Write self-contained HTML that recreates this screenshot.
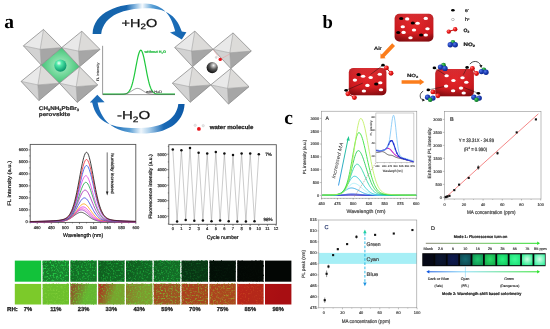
<!DOCTYPE html>
<html><head><meta charset="utf-8"><title>Perovskite humidity and gas sensing figure</title>
<style>
html,body{margin:0;padding:0;background:#fff;}
body{width:550px;height:329px;overflow:hidden;}
svg{display:block;} text{text-rendering:geometricPrecision;}
</style></head>
<body>
<svg width="550" height="329" viewBox="0 0 550 329">
<defs>
<linearGradient id="arcT" x1="0" y1="0" x2="1" y2="0">
 <stop offset="0" stop-color="#1262a8"/><stop offset="0.36" stop-color="#1766b0"/><stop offset="0.46" stop-color="#8fbde3"/><stop offset="0.53" stop-color="#f4f9fd"/><stop offset="0.64" stop-color="#5aa0d6"/><stop offset="0.8" stop-color="#1e70ba"/><stop offset="1" stop-color="#1565b0"/></linearGradient>
<linearGradient id="arcB" x1="1" y1="0" x2="0" y2="0">
 <stop offset="0" stop-color="#0c58a6"/><stop offset="0.22" stop-color="#1a6ab6"/><stop offset="0.37" stop-color="#a8cdea"/><stop offset="0.46" stop-color="#eef6fc"/><stop offset="0.58" stop-color="#5a9ed4"/><stop offset="0.75" stop-color="#1e6eb8"/><stop offset="1" stop-color="#1a6ab8"/></linearGradient>
<radialGradient id="gsq" cx="0.5" cy="0.5" r="0.62"><stop offset="0" stop-color="#b0eec8"/><stop offset="0.55" stop-color="#64d290"/><stop offset="1" stop-color="#34b468"/></radialGradient>
<radialGradient id="gsph" cx="0.38" cy="0.3" r="0.72"><stop offset="0" stop-color="#f4fff8"/><stop offset="0.3" stop-color="#50e8a8"/><stop offset="1" stop-color="#06946a"/></radialGradient>
<radialGradient id="bsph" cx="0.62" cy="0.3" r="0.78"><stop offset="0" stop-color="#f4f4f4"/><stop offset="0.45" stop-color="#5a5a5a"/><stop offset="1" stop-color="#000"/></radialGradient>
<radialGradient id="cubeg" cx="0.5" cy="0.4" r="0.72"><stop offset="0" stop-color="#e82428"/><stop offset="0.65" stop-color="#cf1a1f"/><stop offset="1" stop-color="#a01016"/></radialGradient>
<linearGradient id="cubev" x1="0" y1="0" x2="0" y2="1"><stop offset="0" stop-color="#fff" stop-opacity="0.08"/><stop offset="0.7" stop-color="#000" stop-opacity="0"/><stop offset="1" stop-color="#400" stop-opacity="0.35"/></linearGradient>
<radialGradient id="redb" cx="0.35" cy="0.35" r="0.7"><stop offset="0" stop-color="#ff8080"/><stop offset="0.45" stop-color="#ec1a1a"/><stop offset="1" stop-color="#b00808"/></radialGradient>
<radialGradient id="blub" cx="0.35" cy="0.35" r="0.7"><stop offset="0" stop-color="#5a7ae8"/><stop offset="0.5" stop-color="#1e40b8"/><stop offset="1" stop-color="#0c2488"/></radialGradient>
<radialGradient id="grnb" cx="0.35" cy="0.35" r="0.7"><stop offset="0" stop-color="#60d070"/><stop offset="0.5" stop-color="#1a9a38"/><stop offset="1" stop-color="#0a6a20"/></radialGradient>
<linearGradient id="ar1" x1="0" y1="0" x2="1" y2="0"><stop offset="0" stop-color="#8a8a78"/><stop offset="0.5" stop-color="#70c060"/><stop offset="1" stop-color="#28e028"/></linearGradient>
<linearGradient id="ar2" x1="0" y1="0" x2="1" y2="0"><stop offset="0" stop-color="#1058e0"/><stop offset="0.33" stop-color="#88dcf8"/><stop offset="1" stop-color="#28e028"/></linearGradient>
<linearGradient id="rh0_0" x1="0" y1="0" x2="1" y2="0.3"><stop offset="0" stop-color="rgb(18,194,58)"/><stop offset="0.15" stop-color="rgb(18,194,58)"/><stop offset="0.7" stop-color="rgb(18,194,58)"/></linearGradient>
<linearGradient id="rh1_0" x1="0" y1="0" x2="1" y2="0.3"><stop offset="0" stop-color="rgb(124,202,42)"/><stop offset="0.15" stop-color="rgb(124,202,42)"/><stop offset="0.7" stop-color="rgb(124,202,42)"/></linearGradient>
<linearGradient id="rh0_1" x1="0" y1="0" x2="1" y2="0.3"><stop offset="0" stop-color="rgb(21,119,41)"/><stop offset="0.15" stop-color="rgb(21,119,41)"/><stop offset="0.7" stop-color="rgb(24,132,46)"/></linearGradient>
<filter id="sp0_1" x="0" y="0" width="1" height="1" color-interpolation-filters="sRGB"><feTurbulence type="fractalNoise" baseFrequency="0.6" numOctaves="2" seed="10"/><feColorMatrix type="matrix" values="0 0 0 0 0.153 0 0 0 0 0.843 0 0 0 0 0.294 3.2 0 0 0 -1.600"/></filter>
<linearGradient id="rh1_1" x1="0" y1="0" x2="1" y2="0.3"><stop offset="0" stop-color="rgb(108,192,44)"/><stop offset="0.15" stop-color="rgb(108,192,44)"/><stop offset="0.7" stop-color="rgb(108,192,44)"/></linearGradient>
<filter id="sp1_1" x="0" y="0" width="1" height="1" color-interpolation-filters="sRGB"><feTurbulence type="fractalNoise" baseFrequency="0.6" numOctaves="2" seed="11"/><feColorMatrix type="matrix" values="0 0 0 0 0.502 0 0 0 0 0.808 0 0 0 0 0.220 3.2 0 0 0 -1.673"/></filter>
<linearGradient id="rh0_2" x1="0" y1="0" x2="1" y2="0.3"><stop offset="0" stop-color="rgb(18,106,36)"/><stop offset="0.15" stop-color="rgb(18,106,36)"/><stop offset="0.7" stop-color="rgb(20,118,40)"/></linearGradient>
<filter id="sp0_2" x="0" y="0" width="1" height="1" color-interpolation-filters="sRGB"><feTurbulence type="fractalNoise" baseFrequency="0.6" numOctaves="2" seed="13"/><feColorMatrix type="matrix" values="0 0 0 0 0.129 0 0 0 0 0.753 0 0 0 0 0.255 3.2 0 0 0 -1.600"/></filter>
<linearGradient id="rh1_2" x1="0" y1="0" x2="1" y2="0.3"><stop offset="0" stop-color="rgb(140,88,40)"/><stop offset="0.15" stop-color="rgb(140,88,40)"/><stop offset="0.7" stop-color="rgb(100,182,50)"/></linearGradient>
<filter id="sp1_2" x="0" y="0" width="1" height="1" color-interpolation-filters="sRGB"><feTurbulence type="fractalNoise" baseFrequency="0.6" numOctaves="2" seed="14"/><feColorMatrix type="matrix" values="0 0 0 0 0.424 0 0 0 0 0.769 0 0 0 0 0.196 3.2 0 0 0 -1.600"/></filter>
<linearGradient id="rh0_3" x1="0" y1="0" x2="1" y2="0.3"><stop offset="0" stop-color="rgb(15,93,31)"/><stop offset="0.15" stop-color="rgb(15,93,31)"/><stop offset="0.7" stop-color="rgb(17,104,35)"/></linearGradient>
<filter id="sp0_3" x="0" y="0" width="1" height="1" color-interpolation-filters="sRGB"><feTurbulence type="fractalNoise" baseFrequency="0.6" numOctaves="2" seed="16"/><feColorMatrix type="matrix" values="0 0 0 0 0.110 0 0 0 0 0.663 0 0 0 0 0.224 3.2 0 0 0 -1.600"/></filter>
<linearGradient id="rh1_3" x1="0" y1="0" x2="1" y2="0.3"><stop offset="0" stop-color="rgb(168,58,32)"/><stop offset="0.15" stop-color="rgb(168,58,32)"/><stop offset="0.7" stop-color="rgb(120,165,46)"/></linearGradient>
<filter id="sp1_3" x="0" y="0" width="1" height="1" color-interpolation-filters="sRGB"><feTurbulence type="fractalNoise" baseFrequency="0.6" numOctaves="2" seed="17"/><feColorMatrix type="matrix" values="0 0 0 0 0.424 0 0 0 0 0.745 0 0 0 0 0.196 3.2 0 0 0 -1.658"/></filter>
<linearGradient id="rh0_4" x1="0" y1="0" x2="1" y2="0.3"><stop offset="0" stop-color="rgb(15,92,31)"/><stop offset="0.15" stop-color="rgb(15,92,31)"/><stop offset="0.7" stop-color="rgb(17,102,35)"/></linearGradient>
<filter id="sp0_4" x="0" y="0" width="1" height="1" color-interpolation-filters="sRGB"><feTurbulence type="fractalNoise" baseFrequency="0.6" numOctaves="2" seed="19"/><feColorMatrix type="matrix" values="0 0 0 0 0.110 0 0 0 0 0.651 0 0 0 0 0.224 3.2 0 0 0 -1.600"/></filter>
<linearGradient id="rh1_4" x1="0" y1="0" x2="1" y2="0.3"><stop offset="0" stop-color="rgb(140,125,42)"/><stop offset="0.15" stop-color="rgb(140,125,42)"/><stop offset="0.7" stop-color="rgb(125,155,46)"/></linearGradient>
<filter id="sp1_4" x="0" y="0" width="1" height="1" color-interpolation-filters="sRGB"><feTurbulence type="fractalNoise" baseFrequency="0.6" numOctaves="2" seed="20"/><feColorMatrix type="matrix" values="0 0 0 0 0.424 0 0 0 0 0.761 0 0 0 0 0.196 3.2 0 0 0 -1.564"/></filter>
<linearGradient id="rh0_5" x1="0" y1="0" x2="1" y2="0.3"><stop offset="0" stop-color="rgb(17,97,34)"/><stop offset="0.15" stop-color="rgb(17,97,34)"/><stop offset="0.7" stop-color="rgb(19,108,38)"/></linearGradient>
<filter id="sp0_5" x="0" y="0" width="1" height="1" color-interpolation-filters="sRGB"><feTurbulence type="fractalNoise" baseFrequency="0.6" numOctaves="2" seed="22"/><feColorMatrix type="matrix" values="0 0 0 0 0.122 0 0 0 0 0.690 0 0 0 0 0.243 3.2 0 0 0 -1.600"/></filter>
<linearGradient id="rh1_5" x1="0" y1="0" x2="1" y2="0.3"><stop offset="0" stop-color="rgb(165,72,32)"/><stop offset="0.15" stop-color="rgb(165,72,32)"/><stop offset="0.7" stop-color="rgb(158,84,34)"/></linearGradient>
<filter id="sp1_5" x="0" y="0" width="1" height="1" color-interpolation-filters="sRGB"><feTurbulence type="fractalNoise" baseFrequency="0.6" numOctaves="2" seed="23"/><feColorMatrix type="matrix" values="0 0 0 0 0.490 0 0 0 0 0.714 0 0 0 0 0.196 3.2 0 0 0 -1.600"/></filter>
<linearGradient id="rh0_6" x1="0" y1="0" x2="1" y2="0.3"><stop offset="0" stop-color="rgb(7,50,18)"/><stop offset="0.15" stop-color="rgb(7,50,18)"/><stop offset="0.7" stop-color="rgb(8,56,20)"/></linearGradient>
<filter id="sp0_6" x="0" y="0" width="1" height="1" color-interpolation-filters="sRGB"><feTurbulence type="fractalNoise" baseFrequency="0.6" numOctaves="2" seed="25"/><feColorMatrix type="matrix" values="0 0 0 0 0.055 0 0 0 0 0.357 0 0 0 0 0.125 3.2 0 0 0 -1.600"/></filter>
<linearGradient id="rh1_6" x1="0" y1="0" x2="1" y2="0.3"><stop offset="0" stop-color="rgb(172,62,30)"/><stop offset="0.15" stop-color="rgb(172,62,30)"/><stop offset="0.7" stop-color="rgb(168,70,30)"/></linearGradient>
<filter id="sp1_6" x="0" y="0" width="1" height="1" color-interpolation-filters="sRGB"><feTurbulence type="fractalNoise" baseFrequency="0.6" numOctaves="2" seed="26"/><feColorMatrix type="matrix" values="0 0 0 0 0.549 0 0 0 0 0.667 0 0 0 0 0.180 3.2 0 0 0 -1.600"/></filter>
<linearGradient id="rh0_7" x1="0" y1="0" x2="1" y2="0.3"><stop offset="0" stop-color="rgb(2,14,6)"/><stop offset="0.15" stop-color="rgb(2,14,6)"/><stop offset="0.7" stop-color="rgb(3,16,7)"/></linearGradient>
<filter id="sp0_7" x="0" y="0" width="1" height="1" color-interpolation-filters="sRGB"><feTurbulence type="fractalNoise" baseFrequency="0.6" numOctaves="2" seed="28"/><feColorMatrix type="matrix" values="0 0 0 0 0.020 0 0 0 0 0.102 0 0 0 0 0.043 3.2 0 0 0 -1.600"/></filter>
<linearGradient id="rh1_7" x1="0" y1="0" x2="1" y2="0.3"><stop offset="0" stop-color="rgb(174,66,30)"/><stop offset="0.15" stop-color="rgb(174,66,30)"/><stop offset="0.7" stop-color="rgb(170,72,30)"/></linearGradient>
<filter id="sp1_7" x="0" y="0" width="1" height="1" color-interpolation-filters="sRGB"><feTurbulence type="fractalNoise" baseFrequency="0.6" numOctaves="2" seed="29"/><feColorMatrix type="matrix" values="0 0 0 0 0.627 0 0 0 0 0.608 0 0 0 0 0.165 3.2 0 0 0 -1.600"/></filter>
<linearGradient id="rh0_8" x1="0" y1="0" x2="1" y2="0.3"><stop offset="0" stop-color="rgb(2,7,4)"/><stop offset="0.15" stop-color="rgb(2,7,4)"/><stop offset="0.7" stop-color="rgb(3,8,4)"/></linearGradient>
<filter id="sp0_8" x="0" y="0" width="1" height="1" color-interpolation-filters="sRGB"><feTurbulence type="fractalNoise" baseFrequency="0.6" numOctaves="2" seed="31"/><feColorMatrix type="matrix" values="0 0 0 0 0.020 0 0 0 0 0.051 0 0 0 0 0.027 3.2 0 0 0 -1.600"/></filter>
<linearGradient id="rh1_8" x1="0" y1="0" x2="1" y2="0.3"><stop offset="0" stop-color="rgb(186,36,25)"/><stop offset="0.15" stop-color="rgb(186,36,25)"/><stop offset="0.7" stop-color="rgb(180,40,25)"/></linearGradient>
<filter id="sp1_8" x="0" y="0" width="1" height="1" color-interpolation-filters="sRGB"><feTurbulence type="fractalNoise" baseFrequency="0.6" numOctaves="2" seed="32"/><feColorMatrix type="matrix" values="0 0 0 0 0.784 0 0 0 0 0.275 0 0 0 0 0.118 3.2 0 0 0 -1.751"/></filter>
<linearGradient id="rh0_9" x1="0" y1="0" x2="1" y2="0.3"><stop offset="0" stop-color="rgb(3,6,4)"/><stop offset="0.15" stop-color="rgb(3,6,4)"/><stop offset="0.7" stop-color="rgb(3,6,4)"/></linearGradient>
<linearGradient id="rh1_9" x1="0" y1="0" x2="1" y2="0.3"><stop offset="0" stop-color="rgb(172,16,18)"/><stop offset="0.15" stop-color="rgb(172,16,18)"/><stop offset="0.7" stop-color="rgb(168,14,18)"/></linearGradient>
<linearGradient id="maarr" x1="0" y1="1" x2="0" y2="0"><stop offset="0" stop-color="#3a9ae8"/><stop offset="1" stop-color="#20c890"/></linearGradient>
<radialGradient id="cd0" cx="0.5" cy="0.45" r="0.62"><stop offset="0" stop-color="rgb(6,8,22)"/><stop offset="1" stop-color="rgb(6,8,22)"/></radialGradient>
<radialGradient id="cd1" cx="0.5" cy="0.45" r="0.62"><stop offset="0" stop-color="rgb(12,22,50)"/><stop offset="1" stop-color="rgb(10,18,40)"/></radialGradient>
<radialGradient id="cd2" cx="0.5" cy="0.45" r="0.62"><stop offset="0" stop-color="rgb(14,26,80)"/><stop offset="1" stop-color="rgb(12,22,64)"/></radialGradient>
<radialGradient id="cd3" cx="0.5" cy="0.45" r="0.62"><stop offset="0" stop-color="rgb(20,105,112)"/><stop offset="1" stop-color="rgb(14,72,82)"/></radialGradient>
<radialGradient id="cd4" cx="0.5" cy="0.45" r="0.62"><stop offset="0" stop-color="rgb(32,200,112)"/><stop offset="1" stop-color="rgb(14,148,80)"/></radialGradient>
<radialGradient id="cd5" cx="0.5" cy="0.45" r="0.62"><stop offset="0" stop-color="rgb(42,222,104)"/><stop offset="1" stop-color="rgb(20,172,76)"/></radialGradient>
<radialGradient id="cd6" cx="0.5" cy="0.45" r="0.62"><stop offset="0" stop-color="rgb(42,242,128)"/><stop offset="1" stop-color="rgb(20,202,96)"/></radialGradient>
<radialGradient id="cd7" cx="0.5" cy="0.45" r="0.62"><stop offset="0" stop-color="rgb(64,252,152)"/><stop offset="1" stop-color="rgb(30,226,120)"/></radialGradient>
<radialGradient id="cd8" cx="0.5" cy="0.45" r="0.62"><stop offset="0" stop-color="rgb(205,255,228)"/><stop offset="1" stop-color="rgb(40,236,142)"/></radialGradient>
<radialGradient id="cd9" cx="0.5" cy="0.45" r="0.62"><stop offset="0" stop-color="rgb(214,255,232)"/><stop offset="1" stop-color="rgb(60,242,162)"/></radialGradient></defs>
<rect width="550" height="329" fill="#fff"/>
<text x="4.3" y="27.8" font-size="19.5" text-anchor="start" font-weight="bold" fill="#000" font-family="Liberation Serif, sans-serif" >a</text>
<text x="322.6" y="27.9" font-size="18.6" text-anchor="start" font-weight="bold" fill="#000" font-family="Liberation Serif, sans-serif" >b</text>
<text x="284.3" y="123.7" font-size="19.5" text-anchor="start" font-weight="bold" fill="#000" font-family="Liberation Serif, sans-serif" >c</text>
<polygon points="61.7,47.6 79.5,66.8 59.4,83.2 41.2,65" fill="url(#gsq)"/>
<polygon points="43.5,29.4 23.4,45.8 40.2,49.3" fill="#e9e9e9"/>
<polygon points="43.5,29.4 61.7,47.6 40.2,49.3" fill="#dcdbd9"/>
<polygon points="23.4,45.8 41.2,65 40.2,49.3" fill="#d2d2d2"/>
<polygon points="61.7,47.6 41.2,65 40.2,49.3" fill="#a6a6a6"/>
<path d="M43.5,29.4L40.2,49.3L41.2,65M23.4,45.8L40.2,49.3L61.7,47.6" fill="none" stroke="#9a9a9a" stroke-width="0.55"/>
<polygon points="43.5,29.4 61.7,47.6 41.2,65 23.4,45.8" fill="none" stroke="#858585" stroke-width="0.75" stroke-linejoin="round"/>
<polygon points="81.8,31.2 61.7,47.6 78.5,51.1" fill="#e9e9e9"/>
<polygon points="81.8,31.2 100,49.4 78.5,51.1" fill="#dcdbd9"/>
<polygon points="61.7,47.6 79.5,66.8 78.5,51.1" fill="#d2d2d2"/>
<polygon points="100,49.4 79.5,66.8 78.5,51.1" fill="#a6a6a6"/>
<path d="M81.8,31.2L78.5,51.1L79.5,66.8M61.7,47.6L78.5,51.1L100,49.4" fill="none" stroke="#9a9a9a" stroke-width="0.55"/>
<polygon points="81.8,31.2 100,49.4 79.5,66.8 61.7,47.6" fill="none" stroke="#858585" stroke-width="0.75" stroke-linejoin="round"/>
<polygon points="41.2,65 21.1,81.4 37.9,84.9" fill="#e9e9e9"/>
<polygon points="41.2,65 59.4,83.2 37.9,84.9" fill="#dcdbd9"/>
<polygon points="21.1,81.4 38.9,100.6 37.9,84.9" fill="#d2d2d2"/>
<polygon points="59.4,83.2 38.9,100.6 37.9,84.9" fill="#a6a6a6"/>
<path d="M41.2,65L37.9,84.9L38.9,100.6M21.1,81.4L37.9,84.9L59.4,83.2" fill="none" stroke="#9a9a9a" stroke-width="0.55"/>
<polygon points="41.2,65 59.4,83.2 38.9,100.6 21.1,81.4" fill="none" stroke="#858585" stroke-width="0.75" stroke-linejoin="round"/>
<polygon points="79.5,66.8 59.4,83.2 76.2,86.7" fill="#e9e9e9"/>
<polygon points="79.5,66.8 97.7,85 76.2,86.7" fill="#dcdbd9"/>
<polygon points="59.4,83.2 77.2,102.4 76.2,86.7" fill="#d2d2d2"/>
<polygon points="97.7,85 77.2,102.4 76.2,86.7" fill="#a6a6a6"/>
<path d="M79.5,66.8L76.2,86.7L77.2,102.4M59.4,83.2L76.2,86.7L97.7,85" fill="none" stroke="#9a9a9a" stroke-width="0.55"/>
<polygon points="79.5,66.8 97.7,85 77.2,102.4 59.4,83.2" fill="none" stroke="#858585" stroke-width="0.75" stroke-linejoin="round"/>
<circle cx="60.4" cy="65.6" r="6.1" fill="url(#gsph)"/>
<polygon points="194.8,31.1 174.7,47.5 191.5,51" fill="#e9e9e9"/>
<polygon points="194.8,31.1 213,49.3 191.5,51" fill="#dcdbd9"/>
<polygon points="174.7,47.5 192.5,66.7 191.5,51" fill="#d2d2d2"/>
<polygon points="213,49.3 192.5,66.7 191.5,51" fill="#a6a6a6"/>
<path d="M194.8,31.1L191.5,51L192.5,66.7M174.7,47.5L191.5,51L213,49.3" fill="none" stroke="#9a9a9a" stroke-width="0.55"/>
<polygon points="194.8,31.1 213,49.3 192.5,66.7 174.7,47.5" fill="none" stroke="#858585" stroke-width="0.75" stroke-linejoin="round"/>
<polygon points="233.1,32.9 213,49.3 229.8,52.8" fill="#e9e9e9"/>
<polygon points="233.1,32.9 251.3,51.1 229.8,52.8" fill="#dcdbd9"/>
<polygon points="213,49.3 230.8,68.5 229.8,52.8" fill="#d2d2d2"/>
<polygon points="251.3,51.1 230.8,68.5 229.8,52.8" fill="#a6a6a6"/>
<path d="M233.1,32.9L229.8,52.8L230.8,68.5M213,49.3L229.8,52.8L251.3,51.1" fill="none" stroke="#9a9a9a" stroke-width="0.55"/>
<polygon points="233.1,32.9 251.3,51.1 230.8,68.5 213,49.3" fill="none" stroke="#858585" stroke-width="0.75" stroke-linejoin="round"/>
<polygon points="192.5,66.7 172.4,83.1 189.2,86.6" fill="#e9e9e9"/>
<polygon points="192.5,66.7 210.7,84.9 189.2,86.6" fill="#dcdbd9"/>
<polygon points="172.4,83.1 190.2,102.3 189.2,86.6" fill="#d2d2d2"/>
<polygon points="210.7,84.9 190.2,102.3 189.2,86.6" fill="#a6a6a6"/>
<path d="M192.5,66.7L189.2,86.6L190.2,102.3M172.4,83.1L189.2,86.6L210.7,84.9" fill="none" stroke="#9a9a9a" stroke-width="0.55"/>
<polygon points="192.5,66.7 210.7,84.9 190.2,102.3 172.4,83.1" fill="none" stroke="#858585" stroke-width="0.75" stroke-linejoin="round"/>
<polygon points="230.8,68.5 210.7,84.9 227.5,88.4" fill="#e9e9e9"/>
<polygon points="230.8,68.5 249,86.7 227.5,88.4" fill="#dcdbd9"/>
<polygon points="210.7,84.9 228.5,104.1 227.5,88.4" fill="#d2d2d2"/>
<polygon points="249,86.7 228.5,104.1 227.5,88.4" fill="#a6a6a6"/>
<path d="M230.8,68.5L227.5,88.4L228.5,104.1M210.7,84.9L227.5,88.4L249,86.7" fill="none" stroke="#9a9a9a" stroke-width="0.55"/>
<polygon points="230.8,68.5 249,86.7 228.5,104.1 210.7,84.9" fill="none" stroke="#858585" stroke-width="0.75" stroke-linejoin="round"/>
<circle cx="212.2" cy="67.6" r="5.6" fill="url(#bsph)"/>
<path d="M213.3,49.8 L220,59.4 L229.8,54" fill="none" stroke="#f08080" stroke-width="0.35"/>
<circle cx="216.2" cy="57.4" r="1" fill="#e0e0e0" stroke="#aaa" stroke-width="0.3"/>
<circle cx="220.2" cy="59.4" r="1.7" fill="#e8141b"/>
<text x="38.8" y="109.6" font-size="5.4" text-anchor="start" font-weight="bold" fill="#333" font-family="Liberation Sans, sans-serif" textLength="40.2" lengthAdjust="spacingAndGlyphs" stroke="#333" stroke-width="0.24" >CH<tspan font-size="3.4" dy="1">3</tspan><tspan dy="-1">NH</tspan><tspan font-size="3.4" dy="1">3</tspan><tspan dy="-1">PbBr</tspan><tspan font-size="3.4" dy="1">3</tspan></text>
<text x="38.8" y="116.3" font-size="5.4" text-anchor="start" font-weight="bold" fill="#333" font-family="Liberation Sans, sans-serif" textLength="31.4" lengthAdjust="spacingAndGlyphs" stroke="#333" stroke-width="0.24" >perovskite</text>
<circle cx="195.2" cy="125.3" r="1.25" fill="#e6e6e6" stroke="#bbb" stroke-width="0.3"/>
<circle cx="203.2" cy="125.7" r="1.25" fill="#e6e6e6" stroke="#bbb" stroke-width="0.3"/>
<circle cx="198.9" cy="128.9" r="1.9" fill="#e8141b"/>
<text x="209.7" y="129.3" font-size="5.6" text-anchor="start" font-weight="bold" fill="#222" font-family="Liberation Sans, sans-serif" textLength="43.7" lengthAdjust="spacingAndGlyphs" stroke="#222" stroke-width="0.25" >water molecule</text>
<path d="M92.6,34 C93.5,11 120,3 145,3.4 C161,3.8 171,13 175.2,31.2 L170,32.4 L181.8,39.6 L186.4,32.2 L181.8,31.6 C176,13 162,7.8 145,8.3 C126,8.8 104,14 101.2,34 Z" fill="url(#arcT)"/>
<path d="M184.6,104 C183.5,124 166,133.8 141,133.5 C118,133.2 101.5,124 97.6,102.5 L104.6,102.3 L97.3,94.8 L89.8,102.6 L92.2,102.6 C96.8,126 117,128.6 141,128 C161,127.6 176.5,120 178.3,104 Z" fill="url(#arcB)"/>
<text x="121.6" y="26.5" font-size="11.6" text-anchor="start" font-weight="normal" fill="#111" font-family="Liberation Sans, sans-serif" textLength="35.6" lengthAdjust="spacingAndGlyphs" stroke="#111" stroke-width="0.25">+H<tspan font-size="7.8" dy="2.8">2</tspan><tspan dy="-2.8">O</tspan></text>
<text x="117" y="118.7" font-size="11.6" text-anchor="start" font-weight="normal" fill="#111" font-family="Liberation Sans, sans-serif" textLength="33.2" lengthAdjust="spacingAndGlyphs" stroke="#111" stroke-width="0.25">-H<tspan font-size="7.8" dy="2.8">2</tspan><tspan dy="-2.8">O</tspan></text>
<polyline points="102.6,45.8 102.6,94.6 175,94.6" fill="none" stroke="#555" stroke-width="0.6"/>
<path d="M103,94.2 L103.6,94.2 L104.2,94.2 L104.8,94.2 L105.4,94.2 L106,94.2 L106.6,94.2 L107.2,94.2 L107.8,94.2 L108.4,94.2 L109,94.2 L109.6,94.2 L110.2,94.2 L110.8,94.2 L111.4,94.2 L112,94.2 L112.6,94.2 L113.2,94.2 L113.8,94.2 L114.4,94.2 L115,94.2 L115.6,94.2 L116.2,94.2 L116.8,94.2 L117.4,94.2 L118,94.2 L118.6,94.2 L119.2,94.2 L119.8,94.19 L120.4,94.19 L121,94.18 L121.6,94.17 L122.2,94.16 L122.8,94.13 L123.4,94.1 L124,94.04 L124.6,93.97 L125.2,93.86 L125.8,93.71 L126.4,93.5 L127,93.22 L127.6,92.85 L128.2,92.36 L128.8,91.73 L129.4,90.93 L130,89.93 L130.6,88.71 L131.2,87.23 L131.8,85.49 L132.4,83.47 L133,81.17 L133.6,78.6 L134.2,75.79 L134.8,72.78 L135.4,69.64 L136,66.45 L136.6,63.28 L137.2,60.25 L137.8,57.45 L138.4,54.99 L139,52.96 L139.6,51.45 L140.2,50.52 L140.8,50.2 L141.4,50.52 L142,51.45 L142.6,52.96 L143.2,54.99 L143.8,57.45 L144.4,60.25 L145,63.28 L145.6,66.45 L146.2,69.64 L146.8,72.78 L147.4,75.79 L148,78.6 L148.6,81.17 L149.2,83.47 L149.8,85.49 L150.4,87.23 L151,88.71 L151.6,89.93 L152.2,90.93 L152.8,91.73 L153.4,92.36 L154,92.85 L154.6,93.22 L155.2,93.5 L155.8,93.71 L156.4,93.86 L157,93.97 L157.6,94.04 L158.2,94.1 L158.8,94.13 L159.4,94.16 L160,94.17 L160.6,94.18 L161.2,94.19 L161.8,94.19 L162.4,94.2 L163,94.2 L163.6,94.2 L164.2,94.2 L164.8,94.2 L165.4,94.2 L166,94.2 L166.6,94.2 L167.2,94.2 L167.8,94.2 L168.4,94.2 L169,94.2 L169.6,94.2 L170.2,94.2 L170.8,94.2 L171.4,94.2 L172,94.2 L172.6,94.2 L173.2,94.2 L173.8,94.2 L174.4,94.2 L175,94.2" fill="none" stroke="#1ec83c" stroke-width="1.2"/>
<path d="M103,94.4 L103.6,94.4 L104.2,94.4 L104.8,94.4 L105.4,94.4 L106,94.4 L106.6,94.4 L107.2,94.4 L107.8,94.4 L108.4,94.4 L109,94.4 L109.6,94.4 L110.2,94.4 L110.8,94.4 L111.4,94.4 L112,94.4 L112.6,94.4 L113.2,94.4 L113.8,94.4 L114.4,94.4 L115,94.4 L115.6,94.4 L116.2,94.4 L116.8,94.39 L117.4,94.39 L118,94.39 L118.6,94.38 L119.2,94.38 L119.8,94.37 L120.4,94.35 L121,94.33 L121.6,94.31 L122.2,94.27 L122.8,94.23 L123.4,94.18 L124,94.1 L124.6,94.02 L125.2,93.91 L125.8,93.78 L126.4,93.62 L127,93.43 L127.6,93.21 L128.2,92.96 L128.8,92.68 L129.4,92.37 L130,92.03 L130.6,91.67 L131.2,91.29 L131.8,90.89 L132.4,90.5 L133,90.11 L133.6,89.73 L134.2,89.39 L134.8,89.08 L135.4,88.82 L136,88.62 L136.6,88.48 L137.2,88.41 L137.8,88.41 L138.4,88.48 L139,88.62 L139.6,88.82 L140.2,89.08 L140.8,89.39 L141.4,89.73 L142,90.11 L142.6,90.5 L143.2,90.89 L143.8,91.29 L144.4,91.67 L145,92.03 L145.6,92.37 L146.2,92.68 L146.8,92.96 L147.4,93.21 L148,93.43 L148.6,93.62 L149.2,93.78 L149.8,93.91 L150.4,94.02 L151,94.1 L151.6,94.18 L152.2,94.23 L152.8,94.27 L153.4,94.31 L154,94.33 L154.6,94.35 L155.2,94.37 L155.8,94.38 L156.4,94.38 L157,94.39 L157.6,94.39 L158.2,94.39 L158.8,94.4 L159.4,94.4 L160,94.4 L160.6,94.4 L161.2,94.4 L161.8,94.4 L162.4,94.4 L163,94.4 L163.6,94.4 L164.2,94.4 L164.8,94.4 L165.4,94.4 L166,94.4 L166.6,94.4 L167.2,94.4 L167.8,94.4 L168.4,94.4 L169,94.4 L169.6,94.4 L170.2,94.4 L170.8,94.4 L171.4,94.4 L172,94.4 L172.6,94.4 L173.2,94.4 L173.8,94.4 L174.4,94.4 L175,94.4" fill="none" stroke="#555" stroke-width="0.6"/>
<text x="144.4" y="53.1" font-size="3.6" text-anchor="start" font-weight="bold" fill="#22bb40" font-family="Liberation Sans, sans-serif" textLength="21.6" lengthAdjust="spacingAndGlyphs" stroke="#22bb40" stroke-width="0.16" >without H<tspan font-size="2.5" dy="0.6">2</tspan><tspan dy="-0.6">O</tspan></text>
<text x="146" y="92.6" font-size="3.6" text-anchor="start" font-weight="normal" fill="#444" font-family="Liberation Sans, sans-serif" textLength="16" lengthAdjust="spacingAndGlyphs" stroke="#444" stroke-width="0.14" >with H<tspan font-size="2.5" dy="0.6">2</tspan><tspan dy="-0.6">O</tspan></text>
<text x="0" y="0" font-size="3.4" text-anchor="middle" dominant-baseline="central" font-weight="normal" fill="#444" font-family="Liberation Sans, sans-serif" textLength="18.5" lengthAdjust="spacingAndGlyphs" stroke="#444" stroke-width="0.14" transform="translate(98.4 72) rotate(-90)">FL intensity</text>
<rect x="30.2" y="144.4" width="105.6" height="78" fill="none" stroke="#555" stroke-width="0.9"/>
<text x="27.9" y="223.35" font-size="4.1" text-anchor="end" font-weight="normal" fill="#111" font-family="Liberation Sans, sans-serif" stroke="#111" stroke-width="0.16" >0</text>
<text x="27.9" y="211.35" font-size="4.1" text-anchor="end" font-weight="normal" fill="#111" font-family="Liberation Sans, sans-serif" stroke="#111" stroke-width="0.16" >1000</text>
<text x="27.9" y="199.35" font-size="4.1" text-anchor="end" font-weight="normal" fill="#111" font-family="Liberation Sans, sans-serif" stroke="#111" stroke-width="0.16" >2000</text>
<text x="27.9" y="187.35" font-size="4.1" text-anchor="end" font-weight="normal" fill="#111" font-family="Liberation Sans, sans-serif" stroke="#111" stroke-width="0.16" >3000</text>
<text x="27.9" y="175.35" font-size="4.1" text-anchor="end" font-weight="normal" fill="#111" font-family="Liberation Sans, sans-serif" stroke="#111" stroke-width="0.16" >4000</text>
<text x="27.9" y="163.35" font-size="4.1" text-anchor="end" font-weight="normal" fill="#111" font-family="Liberation Sans, sans-serif" stroke="#111" stroke-width="0.16" >5000</text>
<text x="27.9" y="151.35" font-size="4.1" text-anchor="end" font-weight="normal" fill="#111" font-family="Liberation Sans, sans-serif" stroke="#111" stroke-width="0.16" >6000</text>
<text x="37.24" y="228.9" font-size="4.1" text-anchor="middle" font-weight="normal" fill="#111" font-family="Liberation Sans, sans-serif" stroke="#111" stroke-width="0.16" >460</text>
<text x="51.32" y="228.9" font-size="4.1" text-anchor="middle" font-weight="normal" fill="#111" font-family="Liberation Sans, sans-serif" stroke="#111" stroke-width="0.16" >480</text>
<text x="65.4" y="228.9" font-size="4.1" text-anchor="middle" font-weight="normal" fill="#111" font-family="Liberation Sans, sans-serif" stroke="#111" stroke-width="0.16" >500</text>
<text x="79.48" y="228.9" font-size="4.1" text-anchor="middle" font-weight="normal" fill="#111" font-family="Liberation Sans, sans-serif" stroke="#111" stroke-width="0.16" >520</text>
<text x="93.56" y="228.9" font-size="4.1" text-anchor="middle" font-weight="normal" fill="#111" font-family="Liberation Sans, sans-serif" stroke="#111" stroke-width="0.16" >540</text>
<text x="107.64" y="228.9" font-size="4.1" text-anchor="middle" font-weight="normal" fill="#111" font-family="Liberation Sans, sans-serif" stroke="#111" stroke-width="0.16" >560</text>
<text x="121.72" y="228.9" font-size="4.1" text-anchor="middle" font-weight="normal" fill="#111" font-family="Liberation Sans, sans-serif" stroke="#111" stroke-width="0.16" >580</text>
<text x="135.8" y="228.9" font-size="4.1" text-anchor="middle" font-weight="normal" fill="#111" font-family="Liberation Sans, sans-serif" stroke="#111" stroke-width="0.16" >600</text>
<path d="M28.5,221.9H30.2 M28.5,209.9H30.2 M28.5,197.9H30.2 M28.5,185.9H30.2 M28.5,173.9H30.2 M28.5,161.9H30.2 M28.5,149.9H30.2 M29.2,215.9H30.2 M29.2,203.9H30.2 M29.2,191.9H30.2 M29.2,179.9H30.2 M29.2,167.9H30.2 M29.2,155.9H30.2 M37.24,222.4V224.1 M51.32,222.4V224.1 M65.4,222.4V224.1 M79.48,222.4V224.1 M93.56,222.4V224.1 M107.64,222.4V224.1 M121.72,222.4V224.1 M135.8,222.4V224.1 M30.2,222.4V223.4 M44.28,222.4V223.4 M58.36,222.4V223.4 M72.44,222.4V223.4 M86.52,222.4V223.4 M100.6,222.4V223.4 M114.68,222.4V223.4 M128.76,222.4V223.4" stroke="#333" stroke-width="0.55" fill="none"/>
<text x="63.1" y="237.3" font-size="5.5" text-anchor="start" font-weight="normal" fill="#111" font-family="Liberation Sans, sans-serif" textLength="40.1" lengthAdjust="spacingAndGlyphs" stroke="#111" stroke-width="0.22" >Wavelength (nm)</text>
<text x="0" y="0" font-size="5" text-anchor="middle" dominant-baseline="central" font-weight="normal" fill="#111" font-family="Liberation Sans, sans-serif" textLength="45" lengthAdjust="spacingAndGlyphs" stroke="#111" stroke-width="0.2" transform="translate(10.1 183.3) rotate(-90)">FL intensity (a.u.)</text>
<path d="M30.2,221.83 L30.9,221.83 L31.61,221.83 L32.31,221.83 L33.02,221.82 L33.72,221.82 L34.42,221.82 L35.13,221.82 L35.83,221.81 L36.54,221.81 L37.24,221.81 L37.94,221.8 L38.65,221.8 L39.35,221.8 L40.06,221.8 L40.76,221.79 L41.46,221.79 L42.17,221.78 L42.87,221.78 L43.58,221.78 L44.28,221.77 L44.98,221.77 L45.69,221.76 L46.39,221.76 L47.1,221.75 L47.8,221.74 L48.5,221.74 L49.21,221.73 L49.91,221.72 L50.62,221.71 L51.32,221.71 L52.02,221.7 L52.73,221.68 L53.43,221.67 L54.14,221.66 L54.84,221.64 L55.54,221.63 L56.25,221.6 L56.95,221.58 L57.66,221.55 L58.36,221.52 L59.06,221.48 L59.77,221.43 L60.47,221.37 L61.18,221.3 L61.88,221.22 L62.58,221.12 L63.29,221 L63.99,220.87 L64.7,220.71 L65.4,220.52 L66.1,220.31 L66.81,220.06 L67.51,219.78 L68.22,219.47 L68.92,219.13 L69.62,218.75 L70.33,218.33 L71.03,217.89 L71.74,217.41 L72.44,216.91 L73.14,216.4 L73.85,215.87 L74.55,215.34 L75.26,214.82 L75.96,214.32 L76.66,213.84 L77.37,213.41 L78.07,213.03 L78.78,212.72 L79.48,212.49 L80.18,212.35 L80.89,212.3 L81.59,212.35 L82.3,212.49 L83,212.72 L83.7,213.03 L84.41,213.41 L85.11,213.84 L85.82,214.32 L86.52,214.82 L87.22,215.34 L87.93,215.87 L88.63,216.4 L89.34,216.91 L90.04,217.41 L90.74,217.89 L91.45,218.33 L92.15,218.75 L92.86,219.13 L93.56,219.47 L94.26,219.78 L94.97,220.06 L95.67,220.31 L96.38,220.52 L97.08,220.71 L97.78,220.87 L98.49,221 L99.19,221.12 L99.9,221.22 L100.6,221.3 L101.3,221.37 L102.01,221.43 L102.71,221.48 L103.42,221.52 L104.12,221.55 L104.82,221.58 L105.53,221.6 L106.23,221.63 L106.94,221.64 L107.64,221.66 L108.34,221.67 L109.05,221.68 L109.75,221.7 L110.46,221.71 L111.16,221.71 L111.86,221.72 L112.57,221.73 L113.27,221.74 L113.98,221.74 L114.68,221.75 L115.38,221.76 L116.09,221.76 L116.79,221.77 L117.5,221.77 L118.2,221.78 L118.9,221.78 L119.61,221.78 L120.31,221.79 L121.02,221.79 L121.72,221.8 L122.42,221.8 L123.13,221.8 L123.83,221.8 L124.54,221.81 L125.24,221.81 L125.94,221.81 L126.65,221.82 L127.35,221.82 L128.06,221.82 L128.76,221.82 L129.46,221.83 L130.17,221.83 L130.87,221.83 L131.58,221.83 L132.28,221.83 L132.98,221.83 L133.69,221.84 L134.39,221.84 L135.1,221.84 L135.8,221.84" fill="none" stroke="#333333" stroke-width="0.8"/>
<path d="M30.2,221.82 L30.9,221.81 L31.61,221.81 L32.31,221.81 L33.02,221.81 L33.72,221.8 L34.42,221.8 L35.13,221.8 L35.83,221.79 L36.54,221.79 L37.24,221.79 L37.94,221.78 L38.65,221.78 L39.35,221.78 L40.06,221.77 L40.76,221.77 L41.46,221.76 L42.17,221.76 L42.87,221.76 L43.58,221.75 L44.28,221.74 L44.98,221.74 L45.69,221.73 L46.39,221.73 L47.1,221.72 L47.8,221.71 L48.5,221.7 L49.21,221.7 L49.91,221.69 L50.62,221.68 L51.32,221.67 L52.02,221.66 L52.73,221.64 L53.43,221.63 L54.14,221.62 L54.84,221.6 L55.54,221.58 L56.25,221.56 L56.95,221.53 L57.66,221.5 L58.36,221.46 L59.06,221.42 L59.77,221.37 L60.47,221.31 L61.18,221.24 L61.88,221.15 L62.58,221.05 L63.29,220.93 L63.99,220.78 L64.7,220.61 L65.4,220.41 L66.1,220.18 L66.81,219.91 L67.51,219.6 L68.22,219.25 L68.92,218.86 L69.62,218.43 L70.33,217.96 L71.03,217.44 L71.74,216.88 L72.44,216.29 L73.14,215.67 L73.85,215.02 L74.55,214.36 L75.26,213.7 L75.96,213.05 L76.66,212.42 L77.37,211.83 L78.07,211.28 L78.78,210.81 L79.48,210.43 L80.18,210.14 L80.89,209.96 L81.59,209.9 L82.3,209.96 L83,210.14 L83.7,210.43 L84.41,210.81 L85.11,211.28 L85.82,211.83 L86.52,212.42 L87.22,213.05 L87.93,213.7 L88.63,214.36 L89.34,215.02 L90.04,215.67 L90.74,216.29 L91.45,216.88 L92.15,217.44 L92.86,217.96 L93.56,218.43 L94.26,218.86 L94.97,219.25 L95.67,219.6 L96.38,219.91 L97.08,220.18 L97.78,220.41 L98.49,220.61 L99.19,220.78 L99.9,220.93 L100.6,221.05 L101.3,221.15 L102.01,221.24 L102.71,221.31 L103.42,221.37 L104.12,221.42 L104.82,221.46 L105.53,221.5 L106.23,221.53 L106.94,221.56 L107.64,221.58 L108.34,221.6 L109.05,221.62 L109.75,221.63 L110.46,221.64 L111.16,221.66 L111.86,221.67 L112.57,221.68 L113.27,221.69 L113.98,221.7 L114.68,221.7 L115.38,221.71 L116.09,221.72 L116.79,221.73 L117.5,221.73 L118.2,221.74 L118.9,221.74 L119.61,221.75 L120.31,221.76 L121.02,221.76 L121.72,221.76 L122.42,221.77 L123.13,221.77 L123.83,221.78 L124.54,221.78 L125.24,221.78 L125.94,221.79 L126.65,221.79 L127.35,221.79 L128.06,221.8 L128.76,221.8 L129.46,221.8 L130.17,221.81 L130.87,221.81 L131.58,221.81 L132.28,221.81 L132.98,221.82 L133.69,221.82 L134.39,221.82 L135.1,221.82 L135.8,221.82" fill="none" stroke="#9b30c8" stroke-width="0.8"/>
<path d="M30.2,221.81 L30.9,221.81 L31.61,221.81 L32.31,221.8 L33.02,221.8 L33.72,221.8 L34.42,221.79 L35.13,221.79 L35.83,221.79 L36.54,221.78 L37.24,221.78 L37.94,221.78 L38.65,221.77 L39.35,221.77 L40.06,221.77 L40.76,221.76 L41.46,221.76 L42.17,221.75 L42.87,221.75 L43.58,221.74 L44.28,221.73 L44.98,221.73 L45.69,221.72 L46.39,221.72 L47.1,221.71 L47.8,221.7 L48.5,221.69 L49.21,221.69 L49.91,221.68 L50.62,221.67 L51.32,221.66 L52.02,221.64 L52.73,221.63 L53.43,221.62 L54.14,221.6 L54.84,221.59 L55.54,221.57 L56.25,221.55 L56.95,221.52 L57.66,221.49 L58.36,221.46 L59.06,221.42 L59.77,221.37 L60.47,221.32 L61.18,221.25 L61.88,221.17 L62.58,221.08 L63.29,220.96 L63.99,220.83 L64.7,220.67 L65.4,220.48 L66.1,220.26 L66.81,220 L67.51,219.71 L68.22,219.37 L68.92,218.99 L69.62,218.56 L70.33,218.09 L71.03,217.56 L71.74,216.99 L72.44,216.38 L73.14,215.73 L73.85,215.04 L74.55,214.34 L75.26,213.61 L75.96,212.88 L76.66,212.17 L77.37,211.47 L78.07,210.82 L78.78,210.22 L79.48,209.7 L80.18,209.28 L80.89,208.96 L81.59,208.77 L82.3,208.7 L83,208.77 L83.7,208.96 L84.41,209.28 L85.11,209.7 L85.82,210.22 L86.52,210.82 L87.22,211.47 L87.93,212.17 L88.63,212.88 L89.34,213.61 L90.04,214.34 L90.74,215.04 L91.45,215.73 L92.15,216.38 L92.86,216.99 L93.56,217.56 L94.26,218.09 L94.97,218.56 L95.67,218.99 L96.38,219.37 L97.08,219.71 L97.78,220 L98.49,220.26 L99.19,220.48 L99.9,220.67 L100.6,220.83 L101.3,220.96 L102.01,221.08 L102.71,221.17 L103.42,221.25 L104.12,221.32 L104.82,221.37 L105.53,221.42 L106.23,221.46 L106.94,221.49 L107.64,221.52 L108.34,221.55 L109.05,221.57 L109.75,221.59 L110.46,221.6 L111.16,221.62 L111.86,221.63 L112.57,221.64 L113.27,221.66 L113.98,221.67 L114.68,221.68 L115.38,221.69 L116.09,221.69 L116.79,221.7 L117.5,221.71 L118.2,221.72 L118.9,221.72 L119.61,221.73 L120.31,221.73 L121.02,221.74 L121.72,221.75 L122.42,221.75 L123.13,221.76 L123.83,221.76 L124.54,221.77 L125.24,221.77 L125.94,221.77 L126.65,221.78 L127.35,221.78 L128.06,221.78 L128.76,221.79 L129.46,221.79 L130.17,221.79 L130.87,221.8 L131.58,221.8 L132.28,221.8 L132.98,221.81 L133.69,221.81 L134.39,221.81 L135.1,221.81 L135.8,221.81" fill="none" stroke="#ff55c8" stroke-width="0.8"/>
<path d="M30.2,221.8 L30.9,221.8 L31.61,221.79 L32.31,221.79 L33.02,221.79 L33.72,221.79 L34.42,221.78 L35.13,221.78 L35.83,221.78 L36.54,221.77 L37.24,221.77 L37.94,221.76 L38.65,221.76 L39.35,221.76 L40.06,221.75 L40.76,221.75 L41.46,221.74 L42.17,221.74 L42.87,221.73 L43.58,221.72 L44.28,221.72 L44.98,221.71 L45.69,221.71 L46.39,221.7 L47.1,221.69 L47.8,221.68 L48.5,221.67 L49.21,221.67 L49.91,221.66 L50.62,221.65 L51.32,221.63 L52.02,221.62 L52.73,221.61 L53.43,221.6 L54.14,221.58 L54.84,221.56 L55.54,221.54 L56.25,221.52 L56.95,221.5 L57.66,221.47 L58.36,221.44 L59.06,221.4 L59.77,221.36 L60.47,221.3 L61.18,221.24 L61.88,221.16 L62.58,221.07 L63.29,220.96 L63.99,220.84 L64.7,220.68 L65.4,220.5 L66.1,220.29 L66.81,220.04 L67.51,219.74 L68.22,219.41 L68.92,219.03 L69.62,218.59 L70.33,218.11 L71.03,217.57 L71.74,216.97 L72.44,216.32 L73.14,215.63 L73.85,214.89 L74.55,214.11 L75.26,213.3 L75.96,212.48 L76.66,211.65 L77.37,210.84 L78.07,210.05 L78.78,209.31 L79.48,208.63 L80.18,208.04 L80.89,207.56 L81.59,207.2 L82.3,206.98 L83,206.9 L83.7,206.98 L84.41,207.2 L85.11,207.56 L85.82,208.04 L86.52,208.63 L87.22,209.31 L87.93,210.05 L88.63,210.84 L89.34,211.65 L90.04,212.48 L90.74,213.3 L91.45,214.11 L92.15,214.89 L92.86,215.63 L93.56,216.32 L94.26,216.97 L94.97,217.57 L95.67,218.11 L96.38,218.59 L97.08,219.03 L97.78,219.41 L98.49,219.74 L99.19,220.04 L99.9,220.29 L100.6,220.5 L101.3,220.68 L102.01,220.84 L102.71,220.96 L103.42,221.07 L104.12,221.16 L104.82,221.24 L105.53,221.3 L106.23,221.36 L106.94,221.4 L107.64,221.44 L108.34,221.47 L109.05,221.5 L109.75,221.52 L110.46,221.54 L111.16,221.56 L111.86,221.58 L112.57,221.6 L113.27,221.61 L113.98,221.62 L114.68,221.63 L115.38,221.65 L116.09,221.66 L116.79,221.67 L117.5,221.67 L118.2,221.68 L118.9,221.69 L119.61,221.7 L120.31,221.71 L121.02,221.71 L121.72,221.72 L122.42,221.72 L123.13,221.73 L123.83,221.74 L124.54,221.74 L125.24,221.75 L125.94,221.75 L126.65,221.76 L127.35,221.76 L128.06,221.76 L128.76,221.77 L129.46,221.77 L130.17,221.78 L130.87,221.78 L131.58,221.78 L132.28,221.79 L132.98,221.79 L133.69,221.79 L134.39,221.79 L135.1,221.8 L135.8,221.8" fill="none" stroke="#e020e0" stroke-width="0.8"/>
<path d="M30.2,221.78 L30.9,221.78 L31.61,221.78 L32.31,221.77 L33.02,221.77 L33.72,221.77 L34.42,221.76 L35.13,221.76 L35.83,221.76 L36.54,221.75 L37.24,221.75 L37.94,221.74 L38.65,221.74 L39.35,221.73 L40.06,221.73 L40.76,221.72 L41.46,221.72 L42.17,221.71 L42.87,221.7 L43.58,221.7 L44.28,221.69 L44.98,221.68 L45.69,221.67 L46.39,221.67 L47.1,221.66 L47.8,221.65 L48.5,221.64 L49.21,221.63 L49.91,221.62 L50.62,221.61 L51.32,221.59 L52.02,221.58 L52.73,221.57 L53.43,221.55 L54.14,221.54 L54.84,221.52 L55.54,221.5 L56.25,221.47 L56.95,221.45 L57.66,221.42 L58.36,221.39 L59.06,221.35 L59.77,221.3 L60.47,221.25 L61.18,221.18 L61.88,221.11 L62.58,221.02 L63.29,220.91 L63.99,220.78 L64.7,220.62 L65.4,220.44 L66.1,220.22 L66.81,219.96 L67.51,219.66 L68.22,219.31 L68.92,218.91 L69.62,218.45 L70.33,217.93 L71.03,217.35 L71.74,216.7 L72.44,215.99 L73.14,215.21 L73.85,214.37 L74.55,213.49 L75.26,212.55 L75.96,211.58 L76.66,210.6 L77.37,209.6 L78.07,208.63 L78.78,207.68 L79.48,206.79 L80.18,205.98 L80.89,205.27 L81.59,204.69 L82.3,204.26 L83,203.99 L83.7,203.9 L84.41,203.99 L85.11,204.26 L85.82,204.69 L86.52,205.27 L87.22,205.98 L87.93,206.79 L88.63,207.68 L89.34,208.63 L90.04,209.6 L90.74,210.6 L91.45,211.58 L92.15,212.55 L92.86,213.49 L93.56,214.37 L94.26,215.21 L94.97,215.99 L95.67,216.7 L96.38,217.35 L97.08,217.93 L97.78,218.45 L98.49,218.91 L99.19,219.31 L99.9,219.66 L100.6,219.96 L101.3,220.22 L102.01,220.44 L102.71,220.62 L103.42,220.78 L104.12,220.91 L104.82,221.02 L105.53,221.11 L106.23,221.18 L106.94,221.25 L107.64,221.3 L108.34,221.35 L109.05,221.39 L109.75,221.42 L110.46,221.45 L111.16,221.47 L111.86,221.5 L112.57,221.52 L113.27,221.54 L113.98,221.55 L114.68,221.57 L115.38,221.58 L116.09,221.59 L116.79,221.61 L117.5,221.62 L118.2,221.63 L118.9,221.64 L119.61,221.65 L120.31,221.66 L121.02,221.67 L121.72,221.67 L122.42,221.68 L123.13,221.69 L123.83,221.7 L124.54,221.7 L125.24,221.71 L125.94,221.72 L126.65,221.72 L127.35,221.73 L128.06,221.73 L128.76,221.74 L129.46,221.74 L130.17,221.75 L130.87,221.75 L131.58,221.76 L132.28,221.76 L132.98,221.76 L133.69,221.77 L134.39,221.77 L135.1,221.77 L135.8,221.78" fill="none" stroke="#ff9a00" stroke-width="0.8"/>
<path d="M30.2,221.75 L30.9,221.74 L31.61,221.74 L32.31,221.74 L33.02,221.73 L33.72,221.73 L34.42,221.72 L35.13,221.72 L35.83,221.71 L36.54,221.71 L37.24,221.7 L37.94,221.7 L38.65,221.69 L39.35,221.68 L40.06,221.68 L40.76,221.67 L41.46,221.66 L42.17,221.65 L42.87,221.65 L43.58,221.64 L44.28,221.63 L44.98,221.62 L45.69,221.61 L46.39,221.6 L47.1,221.59 L47.8,221.58 L48.5,221.57 L49.21,221.55 L49.91,221.54 L50.62,221.52 L51.32,221.51 L52.02,221.49 L52.73,221.48 L53.43,221.46 L54.14,221.44 L54.84,221.41 L55.54,221.39 L56.25,221.36 L56.95,221.33 L57.66,221.3 L58.36,221.26 L59.06,221.21 L59.77,221.16 L60.47,221.1 L61.18,221.03 L61.88,220.94 L62.58,220.84 L63.29,220.72 L63.99,220.58 L64.7,220.4 L65.4,220.2 L66.1,219.95 L66.81,219.66 L67.51,219.32 L68.22,218.92 L68.92,218.45 L69.62,217.91 L70.33,217.3 L71.03,216.61 L71.74,215.83 L72.44,214.96 L73.14,214.01 L73.85,212.98 L74.55,211.86 L75.26,210.68 L75.96,209.44 L76.66,208.15 L77.37,206.83 L78.07,205.51 L78.78,204.2 L79.48,202.94 L80.18,201.75 L80.89,200.67 L81.59,199.73 L82.3,198.95 L83,198.38 L83.7,198.02 L84.41,197.9 L85.11,198.02 L85.82,198.38 L86.52,198.95 L87.22,199.73 L87.93,200.67 L88.63,201.75 L89.34,202.94 L90.04,204.2 L90.74,205.51 L91.45,206.83 L92.15,208.15 L92.86,209.44 L93.56,210.68 L94.26,211.86 L94.97,212.98 L95.67,214.01 L96.38,214.96 L97.08,215.83 L97.78,216.61 L98.49,217.3 L99.19,217.91 L99.9,218.45 L100.6,218.92 L101.3,219.32 L102.01,219.66 L102.71,219.95 L103.42,220.2 L104.12,220.4 L104.82,220.58 L105.53,220.72 L106.23,220.84 L106.94,220.94 L107.64,221.03 L108.34,221.1 L109.05,221.16 L109.75,221.21 L110.46,221.26 L111.16,221.3 L111.86,221.33 L112.57,221.36 L113.27,221.39 L113.98,221.41 L114.68,221.44 L115.38,221.46 L116.09,221.48 L116.79,221.49 L117.5,221.51 L118.2,221.52 L118.9,221.54 L119.61,221.55 L120.31,221.57 L121.02,221.58 L121.72,221.59 L122.42,221.6 L123.13,221.61 L123.83,221.62 L124.54,221.63 L125.24,221.64 L125.94,221.65 L126.65,221.65 L127.35,221.66 L128.06,221.67 L128.76,221.68 L129.46,221.68 L130.17,221.69 L130.87,221.7 L131.58,221.7 L132.28,221.71 L132.98,221.71 L133.69,221.72 L134.39,221.72 L135.1,221.73 L135.8,221.73" fill="none" stroke="#2b3de0" stroke-width="0.8"/>
<path d="M30.2,221.7 L30.9,221.7 L31.61,221.69 L32.31,221.69 L33.02,221.68 L33.72,221.68 L34.42,221.67 L35.13,221.67 L35.83,221.66 L36.54,221.65 L37.24,221.64 L37.94,221.64 L38.65,221.63 L39.35,221.62 L40.06,221.61 L40.76,221.6 L41.46,221.59 L42.17,221.59 L42.87,221.57 L43.58,221.56 L44.28,221.55 L44.98,221.54 L45.69,221.53 L46.39,221.52 L47.1,221.5 L47.8,221.49 L48.5,221.47 L49.21,221.46 L49.91,221.44 L50.62,221.42 L51.32,221.4 L52.02,221.38 L52.73,221.36 L53.43,221.34 L54.14,221.31 L54.84,221.29 L55.54,221.26 L56.25,221.22 L56.95,221.19 L57.66,221.15 L58.36,221.1 L59.06,221.05 L59.77,220.99 L60.47,220.92 L61.18,220.84 L61.88,220.75 L62.58,220.63 L63.29,220.5 L63.99,220.34 L64.7,220.15 L65.4,219.92 L66.1,219.64 L66.81,219.32 L67.51,218.93 L68.22,218.48 L68.92,217.95 L69.62,217.33 L70.33,216.62 L71.03,215.81 L71.74,214.89 L72.44,213.86 L73.14,212.71 L73.85,211.45 L74.55,210.08 L75.26,208.6 L75.96,207.03 L76.66,205.39 L77.37,203.68 L78.07,201.93 L78.78,200.18 L79.48,198.45 L80.18,196.78 L80.89,195.2 L81.59,193.77 L82.3,192.52 L83,191.49 L83.7,190.73 L84.41,190.26 L85.11,190.1 L85.82,190.26 L86.52,190.73 L87.22,191.49 L87.93,192.52 L88.63,193.77 L89.34,195.2 L90.04,196.78 L90.74,198.45 L91.45,200.18 L92.15,201.93 L92.86,203.68 L93.56,205.39 L94.26,207.03 L94.97,208.6 L95.67,210.08 L96.38,211.45 L97.08,212.71 L97.78,213.86 L98.49,214.89 L99.19,215.81 L99.9,216.62 L100.6,217.33 L101.3,217.95 L102.01,218.48 L102.71,218.93 L103.42,219.32 L104.12,219.64 L104.82,219.92 L105.53,220.15 L106.23,220.34 L106.94,220.5 L107.64,220.63 L108.34,220.75 L109.05,220.84 L109.75,220.92 L110.46,220.99 L111.16,221.05 L111.86,221.1 L112.57,221.15 L113.27,221.19 L113.98,221.22 L114.68,221.26 L115.38,221.29 L116.09,221.31 L116.79,221.34 L117.5,221.36 L118.2,221.38 L118.9,221.4 L119.61,221.42 L120.31,221.44 L121.02,221.46 L121.72,221.47 L122.42,221.49 L123.13,221.5 L123.83,221.52 L124.54,221.53 L125.24,221.54 L125.94,221.55 L126.65,221.56 L127.35,221.57 L128.06,221.59 L128.76,221.59 L129.46,221.6 L130.17,221.61 L130.87,221.62 L131.58,221.63 L132.28,221.64 L132.98,221.64 L133.69,221.65 L134.39,221.66 L135.1,221.67 L135.8,221.67" fill="none" stroke="#a020b0" stroke-width="0.8"/>
<path d="M30.2,221.66 L30.9,221.66 L31.61,221.65 L32.31,221.64 L33.02,221.64 L33.72,221.63 L34.42,221.62 L35.13,221.62 L35.83,221.61 L36.54,221.6 L37.24,221.59 L37.94,221.58 L38.65,221.57 L39.35,221.56 L40.06,221.55 L40.76,221.54 L41.46,221.53 L42.17,221.52 L42.87,221.51 L43.58,221.5 L44.28,221.48 L44.98,221.47 L45.69,221.45 L46.39,221.44 L47.1,221.42 L47.8,221.4 L48.5,221.39 L49.21,221.37 L49.91,221.35 L50.62,221.33 L51.32,221.3 L52.02,221.28 L52.73,221.26 L53.43,221.23 L54.14,221.2 L54.84,221.17 L55.54,221.13 L56.25,221.1 L56.95,221.06 L57.66,221.01 L58.36,220.96 L59.06,220.91 L59.77,220.84 L60.47,220.77 L61.18,220.68 L61.88,220.58 L62.58,220.46 L63.29,220.32 L63.99,220.16 L64.7,219.96 L65.4,219.72 L66.1,219.43 L66.81,219.09 L67.51,218.68 L68.22,218.2 L68.92,217.64 L69.62,216.98 L70.33,216.21 L71.03,215.32 L71.74,214.31 L72.44,213.17 L73.14,211.88 L73.85,210.46 L74.55,208.89 L75.26,207.18 L75.96,205.34 L76.66,203.39 L77.37,201.33 L78.07,199.21 L78.78,197.03 L79.48,194.85 L80.18,192.7 L80.89,190.61 L81.59,188.65 L82.3,186.87 L83,185.31 L83.7,184.04 L84.41,183.09 L85.11,182.5 L85.82,182.3 L86.52,182.5 L87.22,183.09 L87.93,184.04 L88.63,185.31 L89.34,186.87 L90.04,188.65 L90.74,190.61 L91.45,192.7 L92.15,194.85 L92.86,197.03 L93.56,199.21 L94.26,201.33 L94.97,203.39 L95.67,205.34 L96.38,207.18 L97.08,208.89 L97.78,210.46 L98.49,211.88 L99.19,213.17 L99.9,214.31 L100.6,215.32 L101.3,216.21 L102.01,216.98 L102.71,217.64 L103.42,218.2 L104.12,218.68 L104.82,219.09 L105.53,219.43 L106.23,219.72 L106.94,219.96 L107.64,220.16 L108.34,220.32 L109.05,220.46 L109.75,220.58 L110.46,220.68 L111.16,220.77 L111.86,220.84 L112.57,220.91 L113.27,220.96 L113.98,221.01 L114.68,221.06 L115.38,221.1 L116.09,221.13 L116.79,221.17 L117.5,221.2 L118.2,221.23 L118.9,221.26 L119.61,221.28 L120.31,221.3 L121.02,221.33 L121.72,221.35 L122.42,221.37 L123.13,221.39 L123.83,221.4 L124.54,221.42 L125.24,221.44 L125.94,221.45 L126.65,221.47 L127.35,221.48 L128.06,221.5 L128.76,221.51 L129.46,221.52 L130.17,221.53 L130.87,221.54 L131.58,221.55 L132.28,221.56 L132.98,221.57 L133.69,221.58 L134.39,221.59 L135.1,221.6 L135.8,221.61" fill="none" stroke="#18a040" stroke-width="0.8"/>
<path d="M30.2,221.62 L30.9,221.62 L31.61,221.61 L32.31,221.6 L33.02,221.59 L33.72,221.59 L34.42,221.58 L35.13,221.57 L35.83,221.56 L36.54,221.55 L37.24,221.54 L37.94,221.53 L38.65,221.52 L39.35,221.51 L40.06,221.5 L40.76,221.48 L41.46,221.47 L42.17,221.46 L42.87,221.44 L43.58,221.43 L44.28,221.41 L44.98,221.4 L45.69,221.38 L46.39,221.36 L47.1,221.34 L47.8,221.32 L48.5,221.3 L49.21,221.28 L49.91,221.26 L50.62,221.23 L51.32,221.21 L52.02,221.18 L52.73,221.15 L53.43,221.12 L54.14,221.08 L54.84,221.05 L55.54,221.01 L56.25,220.96 L56.95,220.92 L57.66,220.86 L58.36,220.81 L59.06,220.74 L59.77,220.67 L60.47,220.58 L61.18,220.48 L61.88,220.36 L62.58,220.22 L63.29,220.06 L63.99,219.87 L64.7,219.63 L65.4,219.35 L66.1,219.02 L66.81,218.62 L67.51,218.15 L68.22,217.59 L68.92,216.93 L69.62,216.16 L70.33,215.26 L71.03,214.23 L71.74,213.05 L72.44,211.71 L73.14,210.22 L73.85,208.55 L74.55,206.72 L75.26,204.73 L75.96,202.58 L76.66,200.3 L77.37,197.91 L78.07,195.42 L78.78,192.89 L79.48,190.34 L80.18,187.83 L80.89,185.4 L81.59,183.11 L82.3,181.03 L83,179.22 L83.7,177.73 L84.41,176.62 L85.11,175.93 L85.82,175.7 L86.52,175.93 L87.22,176.62 L87.93,177.73 L88.63,179.22 L89.34,181.03 L90.04,183.11 L90.74,185.4 L91.45,187.83 L92.15,190.34 L92.86,192.89 L93.56,195.42 L94.26,197.91 L94.97,200.3 L95.67,202.58 L96.38,204.73 L97.08,206.72 L97.78,208.55 L98.49,210.22 L99.19,211.71 L99.9,213.05 L100.6,214.23 L101.3,215.26 L102.01,216.16 L102.71,216.93 L103.42,217.59 L104.12,218.15 L104.82,218.62 L105.53,219.02 L106.23,219.35 L106.94,219.63 L107.64,219.87 L108.34,220.06 L109.05,220.22 L109.75,220.36 L110.46,220.48 L111.16,220.58 L111.86,220.67 L112.57,220.74 L113.27,220.81 L113.98,220.86 L114.68,220.92 L115.38,220.96 L116.09,221.01 L116.79,221.05 L117.5,221.08 L118.2,221.12 L118.9,221.15 L119.61,221.18 L120.31,221.21 L121.02,221.23 L121.72,221.26 L122.42,221.28 L123.13,221.3 L123.83,221.32 L124.54,221.34 L125.24,221.36 L125.94,221.38 L126.65,221.4 L127.35,221.41 L128.06,221.43 L128.76,221.44 L129.46,221.46 L130.17,221.47 L130.87,221.48 L131.58,221.5 L132.28,221.51 L132.98,221.52 L133.69,221.53 L134.39,221.54 L135.1,221.55 L135.8,221.56" fill="none" stroke="#e040e8" stroke-width="0.8"/>
<path d="M30.2,221.57 L30.9,221.56 L31.61,221.55 L32.31,221.54 L33.02,221.53 L33.72,221.53 L34.42,221.52 L35.13,221.51 L35.83,221.49 L36.54,221.48 L37.24,221.47 L37.94,221.46 L38.65,221.45 L39.35,221.43 L40.06,221.42 L40.76,221.41 L41.46,221.39 L42.17,221.37 L42.87,221.36 L43.58,221.34 L44.28,221.32 L44.98,221.3 L45.69,221.28 L46.39,221.26 L47.1,221.24 L47.8,221.22 L48.5,221.19 L49.21,221.17 L49.91,221.14 L50.62,221.11 L51.32,221.08 L52.02,221.05 L52.73,221.02 L53.43,220.98 L54.14,220.94 L54.84,220.9 L55.54,220.86 L56.25,220.81 L56.95,220.76 L57.66,220.7 L58.36,220.64 L59.06,220.56 L59.77,220.48 L60.47,220.39 L61.18,220.29 L61.88,220.17 L62.58,220.02 L63.29,219.85 L63.99,219.65 L64.7,219.42 L65.4,219.13 L66.1,218.79 L66.81,218.38 L67.51,217.9 L68.22,217.32 L68.92,216.63 L69.62,215.83 L70.33,214.89 L71.03,213.79 L71.74,212.53 L72.44,211.09 L73.14,209.46 L73.85,207.64 L74.55,205.6 L75.26,203.37 L75.96,200.93 L76.66,198.32 L77.37,195.53 L78.07,192.61 L78.78,189.58 L79.48,186.48 L80.18,183.37 L80.89,180.31 L81.59,177.34 L82.3,174.55 L83,172.01 L83.7,169.79 L84.41,167.97 L85.11,166.62 L85.82,165.78 L86.52,165.5 L87.22,165.78 L87.93,166.62 L88.63,167.97 L89.34,169.79 L90.04,172.01 L90.74,174.55 L91.45,177.34 L92.15,180.31 L92.86,183.37 L93.56,186.48 L94.26,189.58 L94.97,192.61 L95.67,195.53 L96.38,198.32 L97.08,200.93 L97.78,203.37 L98.49,205.6 L99.19,207.64 L99.9,209.46 L100.6,211.09 L101.3,212.53 L102.01,213.79 L102.71,214.89 L103.42,215.83 L104.12,216.63 L104.82,217.32 L105.53,217.9 L106.23,218.38 L106.94,218.79 L107.64,219.13 L108.34,219.42 L109.05,219.65 L109.75,219.85 L110.46,220.02 L111.16,220.17 L111.86,220.29 L112.57,220.39 L113.27,220.48 L113.98,220.56 L114.68,220.64 L115.38,220.7 L116.09,220.76 L116.79,220.81 L117.5,220.86 L118.2,220.9 L118.9,220.94 L119.61,220.98 L120.31,221.02 L121.02,221.05 L121.72,221.08 L122.42,221.11 L123.13,221.14 L123.83,221.17 L124.54,221.19 L125.24,221.22 L125.94,221.24 L126.65,221.26 L127.35,221.28 L128.06,221.3 L128.76,221.32 L129.46,221.34 L130.17,221.36 L130.87,221.37 L131.58,221.39 L132.28,221.41 L132.98,221.42 L133.69,221.43 L134.39,221.45 L135.1,221.46 L135.8,221.47" fill="none" stroke="#2b50e8" stroke-width="0.8"/>
<path d="M30.2,221.53 L30.9,221.53 L31.61,221.52 L32.31,221.51 L33.02,221.5 L33.72,221.49 L34.42,221.47 L35.13,221.46 L35.83,221.45 L36.54,221.44 L37.24,221.43 L37.94,221.41 L38.65,221.4 L39.35,221.38 L40.06,221.37 L40.76,221.35 L41.46,221.34 L42.17,221.32 L42.87,221.3 L43.58,221.28 L44.28,221.26 L44.98,221.24 L45.69,221.22 L46.39,221.2 L47.1,221.17 L47.8,221.15 L48.5,221.12 L49.21,221.09 L49.91,221.06 L50.62,221.03 L51.32,221 L52.02,220.96 L52.73,220.92 L53.43,220.88 L54.14,220.84 L54.84,220.8 L55.54,220.75 L56.25,220.69 L56.95,220.64 L57.66,220.57 L58.36,220.5 L59.06,220.42 L59.77,220.33 L60.47,220.23 L61.18,220.12 L61.88,219.98 L62.58,219.82 L63.29,219.64 L63.99,219.42 L64.7,219.15 L65.4,218.84 L66.1,218.46 L66.81,218.01 L67.51,217.47 L68.22,216.83 L68.92,216.07 L69.62,215.18 L70.33,214.14 L71.03,212.93 L71.74,211.54 L72.44,209.95 L73.14,208.14 L73.85,206.12 L74.55,203.87 L75.26,201.4 L75.96,198.7 L76.66,195.81 L77.37,192.73 L78.07,189.49 L78.78,186.14 L79.48,182.72 L80.18,179.28 L80.89,175.88 L81.59,172.6 L82.3,169.51 L83,166.7 L83.7,164.25 L84.41,162.24 L85.11,160.74 L85.82,159.81 L86.52,159.5 L87.22,159.81 L87.93,160.74 L88.63,162.24 L89.34,164.25 L90.04,166.7 L90.74,169.51 L91.45,172.6 L92.15,175.88 L92.86,179.28 L93.56,182.72 L94.26,186.14 L94.97,189.49 L95.67,192.73 L96.38,195.81 L97.08,198.7 L97.78,201.4 L98.49,203.87 L99.19,206.12 L99.9,208.14 L100.6,209.95 L101.3,211.54 L102.01,212.93 L102.71,214.14 L103.42,215.18 L104.12,216.07 L104.82,216.83 L105.53,217.47 L106.23,218.01 L106.94,218.46 L107.64,218.84 L108.34,219.15 L109.05,219.42 L109.75,219.64 L110.46,219.82 L111.16,219.98 L111.86,220.12 L112.57,220.23 L113.27,220.33 L113.98,220.42 L114.68,220.5 L115.38,220.57 L116.09,220.64 L116.79,220.69 L117.5,220.75 L118.2,220.8 L118.9,220.84 L119.61,220.88 L120.31,220.92 L121.02,220.96 L121.72,221 L122.42,221.03 L123.13,221.06 L123.83,221.09 L124.54,221.12 L125.24,221.15 L125.94,221.17 L126.65,221.2 L127.35,221.22 L128.06,221.24 L128.76,221.26 L129.46,221.28 L130.17,221.3 L130.87,221.32 L131.58,221.34 L132.28,221.35 L132.98,221.37 L133.69,221.38 L134.39,221.4 L135.1,221.41 L135.8,221.43" fill="none" stroke="#ee2233" stroke-width="0.8"/>
<path d="M30.2,221.49 L30.9,221.48 L31.61,221.47 L32.31,221.46 L33.02,221.45 L33.72,221.44 L34.42,221.43 L35.13,221.41 L35.83,221.4 L36.54,221.39 L37.24,221.37 L37.94,221.36 L38.65,221.34 L39.35,221.32 L40.06,221.31 L40.76,221.29 L41.46,221.27 L42.17,221.25 L42.87,221.23 L43.58,221.21 L44.28,221.19 L44.98,221.17 L45.69,221.14 L46.39,221.11 L47.1,221.09 L47.8,221.06 L48.5,221.03 L49.21,221 L49.91,220.96 L50.62,220.93 L51.32,220.89 L52.02,220.85 L52.73,220.81 L53.43,220.77 L54.14,220.72 L54.84,220.67 L55.54,220.61 L56.25,220.55 L56.95,220.49 L57.66,220.42 L58.36,220.34 L59.06,220.25 L59.77,220.15 L60.47,220.04 L61.18,219.91 L61.88,219.76 L62.58,219.58 L63.29,219.38 L63.99,219.13 L64.7,218.84 L65.4,218.48 L66.1,218.06 L66.81,217.56 L67.51,216.96 L68.22,216.25 L68.92,215.4 L69.62,214.41 L70.33,213.25 L71.03,211.9 L71.74,210.34 L72.44,208.57 L73.14,206.55 L73.85,204.3 L74.55,201.79 L75.26,199.03 L75.96,196.03 L76.66,192.8 L77.37,189.36 L78.07,185.75 L78.78,182.02 L79.48,178.2 L80.18,174.36 L80.89,170.57 L81.59,166.91 L82.3,163.47 L83,160.33 L83.7,157.6 L84.41,155.35 L85.11,153.68 L85.82,152.65 L86.52,152.3 L87.22,152.65 L87.93,153.68 L88.63,155.35 L89.34,157.6 L90.04,160.33 L90.74,163.47 L91.45,166.91 L92.15,170.57 L92.86,174.36 L93.56,178.2 L94.26,182.02 L94.97,185.75 L95.67,189.36 L96.38,192.8 L97.08,196.03 L97.78,199.03 L98.49,201.79 L99.19,204.3 L99.9,206.55 L100.6,208.57 L101.3,210.34 L102.01,211.9 L102.71,213.25 L103.42,214.41 L104.12,215.4 L104.82,216.25 L105.53,216.96 L106.23,217.56 L106.94,218.06 L107.64,218.48 L108.34,218.84 L109.05,219.13 L109.75,219.38 L110.46,219.58 L111.16,219.76 L111.86,219.91 L112.57,220.04 L113.27,220.15 L113.98,220.25 L114.68,220.34 L115.38,220.42 L116.09,220.49 L116.79,220.55 L117.5,220.61 L118.2,220.67 L118.9,220.72 L119.61,220.77 L120.31,220.81 L121.02,220.85 L121.72,220.89 L122.42,220.93 L123.13,220.96 L123.83,221 L124.54,221.03 L125.24,221.06 L125.94,221.09 L126.65,221.11 L127.35,221.14 L128.06,221.17 L128.76,221.19 L129.46,221.21 L130.17,221.23 L130.87,221.25 L131.58,221.27 L132.28,221.29 L132.98,221.31 L133.69,221.32 L134.39,221.34 L135.1,221.36 L135.8,221.37" fill="none" stroke="#111111" stroke-width="0.8"/>
<line x1="107.2" y1="152.4" x2="107.2" y2="192" stroke="#222" stroke-width="0.65"/>
<polygon points="105.9,191.4 108.5,191.4 107.2,195.6" fill="#222"/>
<text x="0" y="0" font-size="4.3" text-anchor="middle" dominant-baseline="central" font-weight="normal" fill="#111" font-family="Liberation Sans, sans-serif" textLength="40" lengthAdjust="spacingAndGlyphs" stroke="#111" stroke-width="0.17" transform="translate(112.4 173.6) rotate(90)">humidity increased</text>
<rect x="168.8" y="144.7" width="107.5" height="79.6" fill="none" stroke="#555" stroke-width="0.9"/>
<text x="166.5" y="217.65" font-size="4.1" text-anchor="end" font-weight="normal" fill="#111" font-family="Liberation Sans, sans-serif" stroke="#111" stroke-width="0.16" >1000</text>
<text x="166.5" y="202.15" font-size="4.1" text-anchor="end" font-weight="normal" fill="#111" font-family="Liberation Sans, sans-serif" stroke="#111" stroke-width="0.16" >2000</text>
<text x="166.5" y="186.65" font-size="4.1" text-anchor="end" font-weight="normal" fill="#111" font-family="Liberation Sans, sans-serif" stroke="#111" stroke-width="0.16" >3000</text>
<text x="166.5" y="171.15" font-size="4.1" text-anchor="end" font-weight="normal" fill="#111" font-family="Liberation Sans, sans-serif" stroke="#111" stroke-width="0.16" >4000</text>
<text x="166.5" y="155.65" font-size="4.1" text-anchor="end" font-weight="normal" fill="#111" font-family="Liberation Sans, sans-serif" stroke="#111" stroke-width="0.16" >5000</text>
<text x="172.8" y="230.4" font-size="4.1" text-anchor="middle" font-weight="normal" fill="#111" font-family="Liberation Sans, sans-serif" stroke="#111" stroke-width="0.16" >0</text>
<text x="181.4" y="230.4" font-size="4.1" text-anchor="middle" font-weight="normal" fill="#111" font-family="Liberation Sans, sans-serif" stroke="#111" stroke-width="0.16" >1</text>
<text x="190" y="230.4" font-size="4.1" text-anchor="middle" font-weight="normal" fill="#111" font-family="Liberation Sans, sans-serif" stroke="#111" stroke-width="0.16" >2</text>
<text x="198.6" y="230.4" font-size="4.1" text-anchor="middle" font-weight="normal" fill="#111" font-family="Liberation Sans, sans-serif" stroke="#111" stroke-width="0.16" >3</text>
<text x="207.2" y="230.4" font-size="4.1" text-anchor="middle" font-weight="normal" fill="#111" font-family="Liberation Sans, sans-serif" stroke="#111" stroke-width="0.16" >4</text>
<text x="215.8" y="230.4" font-size="4.1" text-anchor="middle" font-weight="normal" fill="#111" font-family="Liberation Sans, sans-serif" stroke="#111" stroke-width="0.16" >5</text>
<text x="224.4" y="230.4" font-size="4.1" text-anchor="middle" font-weight="normal" fill="#111" font-family="Liberation Sans, sans-serif" stroke="#111" stroke-width="0.16" >6</text>
<text x="233" y="230.4" font-size="4.1" text-anchor="middle" font-weight="normal" fill="#111" font-family="Liberation Sans, sans-serif" stroke="#111" stroke-width="0.16" >7</text>
<text x="241.6" y="230.4" font-size="4.1" text-anchor="middle" font-weight="normal" fill="#111" font-family="Liberation Sans, sans-serif" stroke="#111" stroke-width="0.16" >8</text>
<text x="250.2" y="230.4" font-size="4.1" text-anchor="middle" font-weight="normal" fill="#111" font-family="Liberation Sans, sans-serif" stroke="#111" stroke-width="0.16" >9</text>
<text x="258.8" y="230.4" font-size="4.1" text-anchor="middle" font-weight="normal" fill="#111" font-family="Liberation Sans, sans-serif" stroke="#111" stroke-width="0.16" >10</text>
<text x="267.4" y="230.4" font-size="4.1" text-anchor="middle" font-weight="normal" fill="#111" font-family="Liberation Sans, sans-serif" stroke="#111" stroke-width="0.16" >11</text>
<text x="276" y="230.4" font-size="4.1" text-anchor="middle" font-weight="normal" fill="#111" font-family="Liberation Sans, sans-serif" stroke="#111" stroke-width="0.16" >12</text>
<path d="M167.1,216.2H168.8 M167.1,200.7H168.8 M167.1,185.2H168.8 M167.1,169.7H168.8 M167.1,154.2H168.8 M167.8,223.95H168.8 M167.8,208.45H168.8 M167.8,192.95H168.8 M167.8,177.45H168.8 M167.8,161.95H168.8 M167.8,146.45H168.8 M172.8,224.3V226 M181.4,224.3V226 M190,224.3V226 M198.6,224.3V226 M207.2,224.3V226 M215.8,224.3V226 M224.4,224.3V226 M233,224.3V226 M241.6,224.3V226 M250.2,224.3V226 M258.8,224.3V226 M267.4,224.3V226 M276,224.3V226" stroke="#333" stroke-width="0.55" fill="none"/>
<text x="206.8" y="238.8" font-size="5.2" text-anchor="start" font-weight="normal" fill="#111" font-family="Liberation Sans, sans-serif" textLength="31.8" lengthAdjust="spacingAndGlyphs" stroke="#111" stroke-width="0.21" >Cycle number</text>
<text x="0" y="0" font-size="4.8" text-anchor="middle" dominant-baseline="central" font-weight="normal" fill="#111" font-family="Liberation Sans, sans-serif" textLength="64.6" lengthAdjust="spacingAndGlyphs" stroke="#111" stroke-width="0.19" transform="translate(151.6 186.5) rotate(-90)">Fluorescence intensity (a.u.)</text>
<polyline points="172.8,149.55 177.1,221.62 181.4,150.32 185.7,220.07 190,148 194.3,220.85 198.6,152.65 202.9,220.54 207.2,153.42 211.5,221.16 215.8,151.88 220.1,220.54 224.4,153.42 228.7,221.16 233,154.97 237.3,221.47 241.6,153.42 245.9,221.62 250.2,153.42 254.5,221.16 258.8,154.2" fill="none" stroke="#999" stroke-width="0.5"/>
<circle cx="172.8" cy="149.55" r="1.25" fill="#111"/>
<circle cx="177.1" cy="221.62" r="1.25" fill="#111"/>
<circle cx="181.4" cy="150.32" r="1.25" fill="#111"/>
<circle cx="185.7" cy="220.07" r="1.25" fill="#111"/>
<circle cx="190" cy="148" r="1.25" fill="#111"/>
<circle cx="194.3" cy="220.85" r="1.25" fill="#111"/>
<circle cx="198.6" cy="152.65" r="1.25" fill="#111"/>
<circle cx="202.9" cy="220.54" r="1.25" fill="#111"/>
<circle cx="207.2" cy="153.42" r="1.25" fill="#111"/>
<circle cx="211.5" cy="221.16" r="1.25" fill="#111"/>
<circle cx="215.8" cy="151.88" r="1.25" fill="#111"/>
<circle cx="220.1" cy="220.54" r="1.25" fill="#111"/>
<circle cx="224.4" cy="153.42" r="1.25" fill="#111"/>
<circle cx="228.7" cy="221.16" r="1.25" fill="#111"/>
<circle cx="233" cy="154.97" r="1.25" fill="#111"/>
<circle cx="237.3" cy="221.47" r="1.25" fill="#111"/>
<circle cx="241.6" cy="153.42" r="1.25" fill="#111"/>
<circle cx="245.9" cy="221.62" r="1.25" fill="#111"/>
<circle cx="250.2" cy="153.42" r="1.25" fill="#111"/>
<circle cx="254.5" cy="221.16" r="1.25" fill="#111"/>
<circle cx="258.8" cy="154.2" r="1.25" fill="#111"/>
<text x="265.2" y="156" font-size="4.6" text-anchor="start" font-weight="normal" fill="#111" font-family="Liberation Sans, sans-serif" stroke="#111" stroke-width="0.18" >7%</text>
<text x="263.5" y="221.3" font-size="4.6" text-anchor="start" font-weight="normal" fill="#111" font-family="Liberation Sans, sans-serif" stroke="#111" stroke-width="0.18" >98%</text>
<rect x="14.8" y="260.6" width="26.4" height="21.1" fill="url(#rh0_0)"/>
<rect x="14.8" y="283.9" width="26.4" height="20.6" fill="url(#rh1_0)"/>
<text x="28" y="310.8" font-size="5.8" text-anchor="middle" font-weight="bold" fill="#222" font-family="Liberation Sans, sans-serif" stroke="#222" stroke-width="0.26" >7%</text>
<rect x="42.6" y="260.6" width="26.4" height="21.1" fill="url(#rh0_1)"/>
<rect x="42.6" y="260.6" width="26.4" height="21.1" fill="#000" filter="url(#sp0_1)"/>
<rect x="42.6" y="283.9" width="26.4" height="20.6" fill="url(#rh1_1)"/>
<rect x="42.6" y="283.9" width="26.4" height="20.6" fill="#000" filter="url(#sp1_1)"/>
<text x="55.8" y="310.8" font-size="5.8" text-anchor="middle" font-weight="bold" fill="#222" font-family="Liberation Sans, sans-serif" stroke="#222" stroke-width="0.26" >11%</text>
<rect x="70.4" y="260.6" width="26.4" height="21.1" fill="url(#rh0_2)"/>
<rect x="70.4" y="260.6" width="26.4" height="21.1" fill="#000" filter="url(#sp0_2)"/>
<rect x="70.4" y="283.9" width="26.4" height="20.6" fill="url(#rh1_2)"/>
<rect x="70.4" y="283.9" width="26.4" height="20.6" fill="#000" filter="url(#sp1_2)"/>
<text x="83.6" y="310.8" font-size="5.8" text-anchor="middle" font-weight="bold" fill="#222" font-family="Liberation Sans, sans-serif" stroke="#222" stroke-width="0.26" >23%</text>
<rect x="98.2" y="260.6" width="26.4" height="21.1" fill="url(#rh0_3)"/>
<rect x="98.2" y="260.6" width="26.4" height="21.1" fill="#000" filter="url(#sp0_3)"/>
<rect x="98.2" y="283.9" width="26.4" height="20.6" fill="url(#rh1_3)"/>
<rect x="98.2" y="283.9" width="26.4" height="20.6" fill="#000" filter="url(#sp1_3)"/>
<text x="111.4" y="310.8" font-size="5.8" text-anchor="middle" font-weight="bold" fill="#222" font-family="Liberation Sans, sans-serif" stroke="#222" stroke-width="0.26" >33%</text>
<rect x="126" y="260.6" width="26.4" height="21.1" fill="url(#rh0_4)"/>
<rect x="126" y="260.6" width="26.4" height="21.1" fill="#000" filter="url(#sp0_4)"/>
<rect x="126" y="283.9" width="26.4" height="20.6" fill="url(#rh1_4)"/>
<rect x="126" y="283.9" width="26.4" height="20.6" fill="#000" filter="url(#sp1_4)"/>
<text x="139.2" y="310.8" font-size="5.8" text-anchor="middle" font-weight="bold" fill="#222" font-family="Liberation Sans, sans-serif" stroke="#222" stroke-width="0.26" >43%</text>
<rect x="153.8" y="260.6" width="26.4" height="21.1" fill="url(#rh0_5)"/>
<rect x="153.8" y="260.6" width="26.4" height="21.1" fill="#000" filter="url(#sp0_5)"/>
<rect x="153.8" y="283.9" width="26.4" height="20.6" fill="url(#rh1_5)"/>
<rect x="153.8" y="283.9" width="26.4" height="20.6" fill="#000" filter="url(#sp1_5)"/>
<text x="167" y="310.8" font-size="5.8" text-anchor="middle" font-weight="bold" fill="#222" font-family="Liberation Sans, sans-serif" stroke="#222" stroke-width="0.26" >59%</text>
<rect x="181.6" y="260.6" width="26.4" height="21.1" fill="url(#rh0_6)"/>
<rect x="181.6" y="260.6" width="26.4" height="21.1" fill="#000" filter="url(#sp0_6)"/>
<rect x="181.6" y="283.9" width="26.4" height="20.6" fill="url(#rh1_6)"/>
<rect x="181.6" y="283.9" width="26.4" height="20.6" fill="#000" filter="url(#sp1_6)"/>
<text x="194.8" y="310.8" font-size="5.8" text-anchor="middle" font-weight="bold" fill="#222" font-family="Liberation Sans, sans-serif" stroke="#222" stroke-width="0.26" >70%</text>
<rect x="209.4" y="260.6" width="26.4" height="21.1" fill="url(#rh0_7)"/>
<rect x="209.4" y="260.6" width="26.4" height="21.1" fill="#000" filter="url(#sp0_7)"/>
<rect x="209.4" y="283.9" width="26.4" height="20.6" fill="url(#rh1_7)"/>
<rect x="209.4" y="283.9" width="26.4" height="20.6" fill="#000" filter="url(#sp1_7)"/>
<text x="222.6" y="310.8" font-size="5.8" text-anchor="middle" font-weight="bold" fill="#222" font-family="Liberation Sans, sans-serif" stroke="#222" stroke-width="0.26" >75%</text>
<rect x="237.2" y="260.6" width="26.4" height="21.1" fill="url(#rh0_8)"/>
<rect x="237.2" y="260.6" width="26.4" height="21.1" fill="#000" filter="url(#sp0_8)"/>
<rect x="237.2" y="283.9" width="26.4" height="20.6" fill="url(#rh1_8)"/>
<rect x="237.2" y="283.9" width="26.4" height="20.6" fill="#000" filter="url(#sp1_8)"/>
<text x="250.4" y="310.8" font-size="5.8" text-anchor="middle" font-weight="bold" fill="#222" font-family="Liberation Sans, sans-serif" stroke="#222" stroke-width="0.26" >85%</text>
<rect x="265" y="260.6" width="26.4" height="21.1" fill="url(#rh0_9)"/>
<rect x="265" y="283.9" width="26.4" height="20.6" fill="url(#rh1_9)"/>
<text x="278.2" y="310.8" font-size="5.8" text-anchor="middle" font-weight="bold" fill="#222" font-family="Liberation Sans, sans-serif" stroke="#222" stroke-width="0.26" >98%</text>
<text x="7" y="310.8" font-size="5.8" text-anchor="start" font-weight="bold" fill="#222" font-family="Liberation Sans, sans-serif" textLength="10.8" lengthAdjust="spacingAndGlyphs" stroke="#222" stroke-width="0.26" >RH:</text>
<rect x="394.6" y="13.8" width="38.8" height="27.6" rx="4.6" fill="url(#cubeg)"/>
<rect x="394.6" y="13.8" width="38.8" height="27.6" rx="4.6" fill="url(#cubev)"/>
<ellipse cx="407.2" cy="18.9" rx="2.2" ry="1.55" fill="#fff"/>
<ellipse cx="425.8" cy="18.4" rx="2.2" ry="1.55" fill="#fff"/>
<ellipse cx="402.8" cy="26.7" rx="2.2" ry="1.55" fill="#fff"/>
<ellipse cx="417.6" cy="23.2" rx="2.2" ry="1.55" fill="#fff"/>
<ellipse cx="414" cy="30" rx="2.2" ry="1.55" fill="#fff"/>
<ellipse cx="427.5" cy="28.8" rx="2.2" ry="1.55" fill="#fff"/>
<ellipse cx="403.6" cy="32.4" rx="2.2" ry="1.55" fill="#fff"/>
<ellipse cx="425.8" cy="35" rx="2.2" ry="1.55" fill="#fff"/>
<ellipse cx="410.5" cy="37.8" rx="2.2" ry="1.55" fill="#fff"/>
<ellipse cx="401.2" cy="18.4" rx="2.1" ry="1.5" fill="#000"/>
<ellipse cx="412.8" cy="22.9" rx="2.1" ry="1.5" fill="#000"/>
<ellipse cx="398.2" cy="32.4" rx="2.1" ry="1.5" fill="#000"/>
<ellipse cx="421.1" cy="35" rx="2.1" ry="1.5" fill="#000"/>
<rect x="348.8" y="67.9" width="37.6" height="27.4" rx="4.6" fill="url(#cubeg)"/>
<rect x="348.8" y="67.9" width="37.6" height="27.4" rx="4.6" fill="url(#cubev)"/>
<line x1="383" y1="65.2" x2="370.4" y2="74.5" stroke="#111" stroke-width="0.45"/>
<line x1="346.1" y1="90.3" x2="362.8" y2="83.1" stroke="#111" stroke-width="0.45"/>
<ellipse cx="363.1" cy="76.3" rx="2.2" ry="1.55" fill="#fff"/>
<ellipse cx="370.7" cy="77.5" rx="2.2" ry="1.55" fill="#fff"/>
<ellipse cx="379.8" cy="74.3" rx="2.2" ry="1.55" fill="#fff"/>
<ellipse cx="354.9" cy="80.1" rx="2.2" ry="1.55" fill="#fff"/>
<ellipse cx="380.3" cy="82.8" rx="2.2" ry="1.55" fill="#fff"/>
<ellipse cx="367.4" cy="85.4" rx="2.2" ry="1.55" fill="#fff"/>
<ellipse cx="363.9" cy="91" rx="2.2" ry="1.55" fill="#fff"/>
<ellipse cx="381" cy="89.7" rx="2.2" ry="1.55" fill="#fff"/>
<ellipse cx="358.6" cy="74.5" rx="2.1" ry="1.5" fill="#000"/>
<ellipse cx="376.2" cy="83.9" rx="2.1" ry="1.5" fill="#000"/>
<line x1="386.4" y1="67.9" x2="391" y2="73.3" stroke="#b00" stroke-width="1"/>
<circle cx="386.4" cy="67.9" r="2.45" fill="url(#redb)"/>
<circle cx="391" cy="73.3" r="2.45" fill="url(#redb)"/>
<ellipse cx="383" cy="65.2" rx="1.8" ry="1.4" fill="#000"/>
<line x1="347.9" y1="93.8" x2="354.4" y2="97.6" stroke="#b00" stroke-width="1"/>
<circle cx="347.9" cy="93.8" r="2.45" fill="url(#redb)"/>
<circle cx="354.4" cy="97.6" r="2.45" fill="url(#redb)"/>
<ellipse cx="346.1" cy="90.3" rx="1.8" ry="1.4" fill="#000"/>
<rect x="435.2" y="69" width="38.7" height="27.3" rx="4.6" fill="url(#cubeg)"/>
<rect x="435.2" y="69" width="38.7" height="27.3" rx="4.6" fill="url(#cubev)"/>
<line x1="434.4" y1="67.9" x2="445" y2="74.7" stroke="#111" stroke-width="0.45"/>
<line x1="467.1" y1="67.4" x2="463.3" y2="74.7" stroke="#111" stroke-width="0.45"/>
<line x1="428.3" y1="89.9" x2="446.6" y2="86.1" stroke="#111" stroke-width="0.45"/>
<line x1="478.4" y1="93.3" x2="464" y2="87.6" stroke="#111" stroke-width="0.45"/>
<ellipse cx="446.6" cy="75.8" rx="2.2" ry="1.55" fill="#fff"/>
<ellipse cx="462.5" cy="77.8" rx="2.2" ry="1.55" fill="#fff"/>
<ellipse cx="453.4" cy="80.5" rx="2.2" ry="1.55" fill="#fff"/>
<ellipse cx="466.3" cy="82.3" rx="2.2" ry="1.55" fill="#fff"/>
<ellipse cx="446.1" cy="86.1" rx="2.2" ry="1.55" fill="#fff"/>
<ellipse cx="461" cy="88.1" rx="2.2" ry="1.55" fill="#fff"/>
<ellipse cx="453.1" cy="90.7" rx="2.2" ry="1.55" fill="#fff"/>
<ellipse cx="463.7" cy="93" rx="2.2" ry="1.55" fill="#fff"/>
<circle cx="443.5" cy="65.2" r="2.4" fill="url(#grnb)"/>
<circle cx="440.5" cy="67.1" r="2.7" fill="url(#blub)"/>
<circle cx="445" cy="68.4" r="2.7" fill="url(#blub)"/>
<ellipse cx="434.4" cy="67.9" rx="1.8" ry="1.4" fill="#000"/>
<line x1="472.4" y1="68.4" x2="476.5" y2="73.5" stroke="#b00" stroke-width="1"/>
<circle cx="472.4" cy="68.4" r="2.45" fill="url(#redb)"/>
<circle cx="476.5" cy="73.5" r="2.45" fill="url(#redb)"/>
<ellipse cx="467.1" cy="67.4" rx="1.8" ry="1.4" fill="#000"/>
<circle cx="483.8" cy="69.8" r="2.4" fill="url(#grnb)"/>
<circle cx="481.5" cy="71.6" r="2.7" fill="url(#blub)"/>
<circle cx="486" cy="72.2" r="2.7" fill="url(#blub)"/>
<line x1="432.9" y1="91.9" x2="437.9" y2="95.7" stroke="#b00" stroke-width="1"/>
<circle cx="432.9" cy="91.9" r="2.45" fill="url(#redb)"/>
<circle cx="437.9" cy="95.7" r="2.45" fill="url(#redb)"/>
<ellipse cx="428.3" cy="89.9" rx="1.8" ry="1.4" fill="#000"/>
<circle cx="427.6" cy="97.3" r="2.7" fill="url(#blub)"/>
<circle cx="432.9" cy="98.1" r="2.7" fill="url(#blub)"/>
<circle cx="430.2" cy="99.8" r="2.3" fill="url(#grnb)"/>
<ellipse cx="478.4" cy="93.3" rx="1.8" ry="1.4" fill="#000"/>
<circle cx="473.9" cy="97.3" r="2.7" fill="url(#blub)"/>
<circle cx="479.2" cy="98.1" r="2.7" fill="url(#blub)"/>
<circle cx="476.5" cy="99.8" r="2.3" fill="url(#grnb)"/>
<path d="M469.8,64.2 C472.5,60.5 478.5,60.2 480.8,65.5" fill="none" stroke="#111" stroke-width="0.75"/>
<polygon points="479.3,65.3 482.4,64.9 481.2,68" fill="#111"/>
<path d="M423.2,91.2 C419.2,93 419.2,98.8 423,100" fill="none" stroke="#111" stroke-width="0.75"/>
<polygon points="422.6,98.6 425,100.3 422.3,101.5" fill="#111"/>
<polygon points="392.18,43.26 381.66,54.42 380.53,53.36 380.4,58.6 385.62,58.16 384.49,57.1 395.02,45.94" fill="#fb7d1c"/>
<text x="374.1" y="50.2" font-size="4.8" text-anchor="start" font-weight="normal" fill="#111" font-family="Liberation Sans, sans-serif" textLength="7.6" lengthAdjust="spacingAndGlyphs" stroke="#111" stroke-width="0.19" >Air</text>
<polygon points="401.6,83.75 419.7,83.75 419.7,85.2 424.3,82 419.7,78.8 419.7,80.25 401.6,80.25" fill="#fb7d1c"/>
<text x="406.9" y="77.4" font-size="4.6" text-anchor="start" font-weight="bold" fill="#222" font-family="Liberation Sans, sans-serif" textLength="11.3" lengthAdjust="spacingAndGlyphs" stroke="#222" stroke-width="0.21" >NO<tspan font-size="3" dy="0.9">2</tspan></text>
<ellipse cx="452.9" cy="10.3" rx="1.8" ry="1.2" fill="#000"/>
<ellipse cx="452.9" cy="19.5" rx="1.5" ry="1.1" fill="#fff" stroke="#555" stroke-width="0.35"/>
<line x1="448.8" y1="31.6" x2="455.2" y2="29.3" stroke="#b00" stroke-width="1"/>
<circle cx="448.8" cy="31.6" r="2.2" fill="url(#redb)"/>
<circle cx="455.2" cy="29.3" r="2.2" fill="url(#redb)"/>
<circle cx="452.9" cy="42.5" r="2.4" fill="url(#grnb)"/>
<circle cx="450.3" cy="44.8" r="2.7" fill="url(#blub)"/>
<circle cx="455.2" cy="44.8" r="2.7" fill="url(#blub)"/>
<text x="465.1" y="12" font-size="5.2" text-anchor="start" font-weight="normal" fill="#111" font-family="Liberation Sans, sans-serif" stroke="#111" stroke-width="0.21" >e<tspan font-size="3" dy="-1.7">-</tspan></text>
<text x="465.1" y="21.2" font-size="5.2" text-anchor="start" font-weight="normal" fill="#111" font-family="Liberation Sans, sans-serif" stroke="#111" stroke-width="0.21" >h<tspan font-size="3" dy="-1.7">+</tspan></text>
<text x="463.6" y="32.3" font-size="5" text-anchor="start" font-weight="bold" fill="#111" font-family="Liberation Sans, sans-serif" stroke="#111" stroke-width="0.22" >O<tspan font-size="3.2" dy="0.9">2</tspan></text>
<text x="463.6" y="46" font-size="5" text-anchor="start" font-weight="bold" fill="#111" font-family="Liberation Sans, sans-serif" textLength="11.4" lengthAdjust="spacingAndGlyphs" stroke="#111" stroke-width="0.22" >NO<tspan font-size="3.2" dy="0.9">2</tspan></text>
<rect x="321.4" y="111.2" width="95.4" height="87" fill="none" stroke="#888" stroke-width="0.55"/>
<text x="319.2" y="196.7" font-size="3.9" text-anchor="end" font-weight="normal" fill="#383838" font-family="Liberation Sans, sans-serif" stroke="#383838" stroke-width="0.16" >0</text>
<text x="319.2" y="183.87" font-size="3.9" text-anchor="end" font-weight="normal" fill="#383838" font-family="Liberation Sans, sans-serif" stroke="#383838" stroke-width="0.16" >500</text>
<text x="319.2" y="171.03" font-size="3.9" text-anchor="end" font-weight="normal" fill="#383838" font-family="Liberation Sans, sans-serif" stroke="#383838" stroke-width="0.16" >1000</text>
<text x="319.2" y="158.2" font-size="3.9" text-anchor="end" font-weight="normal" fill="#383838" font-family="Liberation Sans, sans-serif" stroke="#383838" stroke-width="0.16" >1500</text>
<text x="319.2" y="145.36" font-size="3.9" text-anchor="end" font-weight="normal" fill="#383838" font-family="Liberation Sans, sans-serif" stroke="#383838" stroke-width="0.16" >2000</text>
<text x="319.2" y="132.53" font-size="3.9" text-anchor="end" font-weight="normal" fill="#383838" font-family="Liberation Sans, sans-serif" stroke="#383838" stroke-width="0.16" >2500</text>
<text x="319.2" y="119.69" font-size="3.9" text-anchor="end" font-weight="normal" fill="#383838" font-family="Liberation Sans, sans-serif" stroke="#383838" stroke-width="0.16" >3000</text>
<text x="321.7" y="205.1" font-size="3.9" text-anchor="middle" font-weight="normal" fill="#383838" font-family="Liberation Sans, sans-serif" stroke="#383838" stroke-width="0.16" >450</text>
<text x="337.45" y="205.1" font-size="3.9" text-anchor="middle" font-weight="normal" fill="#383838" font-family="Liberation Sans, sans-serif" stroke="#383838" stroke-width="0.16" >475</text>
<text x="353.2" y="205.1" font-size="3.9" text-anchor="middle" font-weight="normal" fill="#383838" font-family="Liberation Sans, sans-serif" stroke="#383838" stroke-width="0.16" >500</text>
<text x="368.95" y="205.1" font-size="3.9" text-anchor="middle" font-weight="normal" fill="#383838" font-family="Liberation Sans, sans-serif" stroke="#383838" stroke-width="0.16" >525</text>
<text x="384.7" y="205.1" font-size="3.9" text-anchor="middle" font-weight="normal" fill="#383838" font-family="Liberation Sans, sans-serif" stroke="#383838" stroke-width="0.16" >550</text>
<text x="400.45" y="205.1" font-size="3.9" text-anchor="middle" font-weight="normal" fill="#383838" font-family="Liberation Sans, sans-serif" stroke="#383838" stroke-width="0.16" >575</text>
<text x="416.2" y="205.1" font-size="3.9" text-anchor="middle" font-weight="normal" fill="#383838" font-family="Liberation Sans, sans-serif" stroke="#383838" stroke-width="0.16" >600</text>
<path d="M319.9,195.4H321.4 M319.9,182.56H321.4 M319.9,169.73H321.4 M319.9,156.9H321.4 M319.9,144.06H321.4 M319.9,131.23H321.4 M319.9,118.39H321.4 M321.7,198.2V199.7 M337.45,198.2V199.7 M353.2,198.2V199.7 M368.95,198.2V199.7 M384.7,198.2V199.7 M400.45,198.2V199.7 M416.2,198.2V199.7 M321.7,198.2V199 M324.85,198.2V199 M328,198.2V199 M331.15,198.2V199 M334.3,198.2V199 M337.45,198.2V199 M340.6,198.2V199 M343.75,198.2V199 M346.9,198.2V199 M350.05,198.2V199 M353.2,198.2V199 M356.35,198.2V199 M359.5,198.2V199 M362.65,198.2V199 M365.8,198.2V199 M368.95,198.2V199 M372.1,198.2V199 M375.25,198.2V199 M378.4,198.2V199 M381.55,198.2V199 M384.7,198.2V199 M387.85,198.2V199 M391,198.2V199 M394.15,198.2V199 M397.3,198.2V199 M400.45,198.2V199 M403.6,198.2V199 M406.75,198.2V199 M409.9,198.2V199 M413.05,198.2V199 M416.2,198.2V199" stroke="#777" stroke-width="0.45" fill="none"/>
<text x="366" y="212.9" font-size="5.2" text-anchor="middle" font-weight="normal" fill="#484848" font-family="Liberation Sans, sans-serif" textLength="39" lengthAdjust="spacingAndGlyphs" stroke="#484848" stroke-width="0.21" >Wavelength (nm)</text>
<text x="0" y="0" font-size="4.4" text-anchor="middle" dominant-baseline="central" font-weight="normal" fill="#484848" font-family="Liberation Sans, sans-serif" textLength="34.5" lengthAdjust="spacingAndGlyphs" stroke="#484848" stroke-width="0.18" transform="translate(304.4 157) rotate(-90)">PL intensity (a.u.)</text>
<text x="325.4" y="120.3" font-size="5.2" text-anchor="start" font-weight="normal" fill="#484848" font-family="Liberation Sans, sans-serif" stroke="#484848" stroke-width="0.21" >A</text>
<path d="M322.33,195.4 L322.96,195.4 L323.58,195.4 L324.21,195.4 L324.83,195.4 L325.46,195.4 L326.08,195.4 L326.71,195.4 L327.34,195.4 L327.96,195.4 L328.59,195.4 L329.21,195.4 L329.84,195.4 L330.47,195.4 L331.09,195.39 L331.72,195.39 L332.34,195.39 L332.97,195.39 L333.59,195.39 L334.22,195.39 L334.85,195.39 L335.47,195.38 L336.1,195.38 L336.72,195.38 L337.35,195.37 L337.97,195.37 L338.6,195.36 L339.23,195.35 L339.85,195.34 L340.48,195.34 L341.1,195.32 L341.73,195.31 L342.36,195.3 L342.98,195.29 L343.61,195.27 L344.23,195.26 L344.86,195.25 L345.48,195.23 L346.11,195.22 L346.74,195.2 L347.36,195.19 L347.99,195.18 L348.61,195.17 L349.24,195.16 L349.87,195.15 L350.49,195.15 L351.12,195.14 L351.74,195.14 L352.37,195.15 L352.99,195.15 L353.62,195.15 L354.25,195.16 L354.87,195.17 L355.5,195.18 L356.12,195.19 L356.75,195.2 L357.37,195.21 L358,195.22 L358.63,195.23 L359.25,195.24 L359.88,195.25 L360.5,195.27 L361.13,195.28 L361.76,195.29 L362.38,195.3 L363.01,195.31 L363.63,195.32 L364.26,195.33 L364.88,195.33 L365.51,195.34 L366.14,195.35 L366.76,195.36 L367.39,195.36 L368.01,195.37 L368.64,195.37 L369.26,195.37 L369.89,195.38 L370.52,195.38 L371.14,195.38 L371.77,195.39 L372.39,195.39 L373.02,195.39 L373.65,195.39 L374.27,195.39 L374.9,195.39 L375.52,195.39 L376.15,195.39 L376.77,195.39 L377.4,195.4 L378.03,195.4 L378.65,195.4 L379.28,195.4 L379.9,195.4 L380.53,195.4 L381.16,195.4 L381.78,195.4 L382.41,195.4 L383.03,195.4 L383.66,195.4 L384.28,195.4 L384.91,195.4 L385.54,195.4 L386.16,195.4 L386.79,195.4 L387.41,195.4 L388.04,195.4 L388.66,195.4 L389.29,195.4 L389.92,195.4 L390.54,195.4 L391.17,195.4 L391.79,195.4 L392.42,195.4 L393.05,195.4 L393.67,195.4 L394.3,195.4 L394.92,195.4 L395.55,195.4 L396.17,195.4 L396.8,195.4 L397.43,195.4 L398.05,195.4 L398.68,195.4 L399.3,195.4 L399.93,195.4 L400.55,195.4 L401.18,195.4 L401.81,195.4 L402.43,195.4 L403.06,195.4 L403.68,195.4 L404.31,195.4 L404.94,195.4 L405.56,195.4 L406.19,195.4 L406.81,195.4 L407.44,195.4 L408.06,195.4 L408.69,195.4 L409.32,195.4 L409.94,195.4 L410.57,195.4 L411.19,195.4 L411.82,195.4 L412.45,195.4 L413.07,195.4 L413.7,195.4 L414.32,195.4 L414.95,195.4 L415.57,195.4 L416.2,195.4" fill="none" stroke="#2a1ca0" stroke-width="0.85"/>
<path d="M322.33,195.39 L322.96,195.39 L323.58,195.39 L324.21,195.39 L324.83,195.39 L325.46,195.39 L326.08,195.39 L326.71,195.39 L327.34,195.39 L327.96,195.39 L328.59,195.39 L329.21,195.39 L329.84,195.39 L330.47,195.39 L331.09,195.39 L331.72,195.38 L332.34,195.38 L332.97,195.38 L333.59,195.38 L334.22,195.37 L334.85,195.36 L335.47,195.36 L336.1,195.35 L336.72,195.34 L337.35,195.33 L337.97,195.32 L338.6,195.3 L339.23,195.28 L339.85,195.26 L340.48,195.24 L341.1,195.21 L341.73,195.18 L342.36,195.15 L342.98,195.12 L343.61,195.09 L344.23,195.05 L344.86,195.01 L345.48,194.98 L346.11,194.94 L346.74,194.9 L347.36,194.87 L347.99,194.84 L348.61,194.81 L349.24,194.79 L349.87,194.77 L350.49,194.76 L351.12,194.76 L351.74,194.76 L352.37,194.76 L352.99,194.77 L353.62,194.79 L354.25,194.8 L354.87,194.82 L355.5,194.84 L356.12,194.87 L356.75,194.89 L357.37,194.92 L358,194.95 L358.63,194.98 L359.25,195.01 L359.88,195.04 L360.5,195.06 L361.13,195.09 L361.76,195.12 L362.38,195.15 L363.01,195.17 L363.63,195.19 L364.26,195.22 L364.88,195.24 L365.51,195.26 L366.14,195.27 L366.76,195.29 L367.39,195.3 L368.01,195.31 L368.64,195.33 L369.26,195.34 L369.89,195.34 L370.52,195.35 L371.14,195.36 L371.77,195.36 L372.39,195.37 L373.02,195.37 L373.65,195.38 L374.27,195.38 L374.9,195.38 L375.52,195.38 L376.15,195.38 L376.77,195.39 L377.4,195.39 L378.03,195.39 L378.65,195.39 L379.28,195.39 L379.9,195.39 L380.53,195.39 L381.16,195.39 L381.78,195.39 L382.41,195.39 L383.03,195.39 L383.66,195.39 L384.28,195.39 L384.91,195.39 L385.54,195.39 L386.16,195.39 L386.79,195.39 L387.41,195.39 L388.04,195.39 L388.66,195.4 L389.29,195.4 L389.92,195.4 L390.54,195.4 L391.17,195.4 L391.79,195.4 L392.42,195.4 L393.05,195.4 L393.67,195.4 L394.3,195.4 L394.92,195.4 L395.55,195.4 L396.17,195.4 L396.8,195.4 L397.43,195.4 L398.05,195.4 L398.68,195.4 L399.3,195.4 L399.93,195.4 L400.55,195.4 L401.18,195.4 L401.81,195.4 L402.43,195.4 L403.06,195.4 L403.68,195.4 L404.31,195.4 L404.94,195.4 L405.56,195.4 L406.19,195.4 L406.81,195.4 L407.44,195.4 L408.06,195.4 L408.69,195.4 L409.32,195.4 L409.94,195.4 L410.57,195.4 L411.19,195.4 L411.82,195.4 L412.45,195.4 L413.07,195.4 L413.7,195.4 L414.32,195.4 L414.95,195.4 L415.57,195.4 L416.2,195.4" fill="none" stroke="#3a2ad0" stroke-width="0.85"/>
<path d="M322.33,195.39 L322.96,195.39 L323.58,195.39 L324.21,195.39 L324.83,195.39 L325.46,195.39 L326.08,195.38 L326.71,195.38 L327.34,195.38 L327.96,195.38 L328.59,195.38 L329.21,195.38 L329.84,195.38 L330.47,195.37 L331.09,195.37 L331.72,195.37 L332.34,195.36 L332.97,195.36 L333.59,195.35 L334.22,195.34 L334.85,195.33 L335.47,195.32 L336.1,195.3 L336.72,195.28 L337.35,195.26 L337.97,195.23 L338.6,195.2 L339.23,195.16 L339.85,195.12 L340.48,195.07 L341.1,195.01 L341.73,194.95 L342.36,194.88 L342.98,194.81 L343.61,194.73 L344.23,194.65 L344.86,194.56 L345.48,194.47 L346.11,194.38 L346.74,194.3 L347.36,194.21 L347.99,194.13 L348.61,194.06 L349.24,193.99 L349.87,193.94 L350.49,193.9 L351.12,193.87 L351.74,193.86 L352.37,193.86 L352.99,193.87 L353.62,193.89 L354.25,193.92 L354.87,193.96 L355.5,194.01 L356.12,194.06 L356.75,194.12 L357.37,194.18 L358,194.25 L358.63,194.31 L359.25,194.38 L359.88,194.45 L360.5,194.53 L361.13,194.59 L361.76,194.66 L362.38,194.73 L363.01,194.79 L363.63,194.85 L364.26,194.91 L364.88,194.96 L365.51,195.01 L366.14,195.05 L366.76,195.09 L367.39,195.13 L368.01,195.16 L368.64,195.19 L369.26,195.22 L369.89,195.24 L370.52,195.27 L371.14,195.28 L371.77,195.3 L372.39,195.31 L373.02,195.32 L373.65,195.33 L374.27,195.34 L374.9,195.35 L375.52,195.35 L376.15,195.36 L376.77,195.36 L377.4,195.37 L378.03,195.37 L378.65,195.37 L379.28,195.38 L379.9,195.38 L380.53,195.38 L381.16,195.38 L381.78,195.38 L382.41,195.38 L383.03,195.38 L383.66,195.38 L384.28,195.38 L384.91,195.39 L385.54,195.39 L386.16,195.39 L386.79,195.39 L387.41,195.39 L388.04,195.39 L388.66,195.39 L389.29,195.39 L389.92,195.39 L390.54,195.39 L391.17,195.39 L391.79,195.39 L392.42,195.39 L393.05,195.39 L393.67,195.39 L394.3,195.39 L394.92,195.39 L395.55,195.39 L396.17,195.39 L396.8,195.39 L397.43,195.39 L398.05,195.39 L398.68,195.39 L399.3,195.39 L399.93,195.39 L400.55,195.39 L401.18,195.39 L401.81,195.39 L402.43,195.39 L403.06,195.39 L403.68,195.39 L404.31,195.39 L404.94,195.39 L405.56,195.39 L406.19,195.39 L406.81,195.39 L407.44,195.39 L408.06,195.39 L408.69,195.39 L409.32,195.39 L409.94,195.39 L410.57,195.4 L411.19,195.4 L411.82,195.4 L412.45,195.4 L413.07,195.4 L413.7,195.4 L414.32,195.4 L414.95,195.4 L415.57,195.4 L416.2,195.4" fill="none" stroke="#3058e0" stroke-width="0.85"/>
<path d="M322.33,195.34 L322.96,195.34 L323.58,195.34 L324.21,195.33 L324.83,195.33 L325.46,195.33 L326.08,195.32 L326.71,195.32 L327.34,195.31 L327.96,195.3 L328.59,195.3 L329.21,195.29 L329.84,195.27 L330.47,195.26 L331.09,195.24 L331.72,195.22 L332.34,195.19 L332.97,195.15 L333.59,195.11 L334.22,195.06 L334.85,194.99 L335.47,194.91 L336.1,194.82 L336.72,194.71 L337.35,194.57 L337.97,194.42 L338.6,194.23 L339.23,194.02 L339.85,193.79 L340.48,193.52 L341.1,193.22 L341.73,192.89 L342.36,192.54 L342.98,192.16 L343.61,191.76 L344.23,191.34 L344.86,190.92 L345.48,190.49 L346.11,190.06 L346.74,189.65 L347.36,189.27 L347.99,188.92 L348.61,188.61 L349.24,188.35 L349.87,188.15 L350.49,188.02 L351.12,187.96 L351.74,187.97 L352.37,188.02 L352.99,188.12 L353.62,188.27 L354.25,188.45 L354.87,188.67 L355.5,188.92 L356.12,189.2 L356.75,189.5 L357.37,189.82 L358,190.15 L358.63,190.49 L359.25,190.83 L359.88,191.17 L360.5,191.51 L361.13,191.84 L361.76,192.16 L362.38,192.46 L363.01,192.75 L363.63,193.02 L364.26,193.28 L364.88,193.51 L365.51,193.73 L366.14,193.92 L366.76,194.1 L367.39,194.26 L368.01,194.41 L368.64,194.54 L369.26,194.65 L369.89,194.75 L370.52,194.84 L371.14,194.91 L371.77,194.97 L372.39,195.03 L373.02,195.08 L373.65,195.12 L374.27,195.15 L374.9,195.18 L375.52,195.2 L376.15,195.23 L376.77,195.24 L377.4,195.26 L378.03,195.27 L378.65,195.28 L379.28,195.29 L379.9,195.3 L380.53,195.3 L381.16,195.31 L381.78,195.31 L382.41,195.32 L383.03,195.32 L383.66,195.32 L384.28,195.33 L384.91,195.33 L385.54,195.33 L386.16,195.34 L386.79,195.34 L387.41,195.34 L388.04,195.34 L388.66,195.34 L389.29,195.35 L389.92,195.35 L390.54,195.35 L391.17,195.35 L391.79,195.35 L392.42,195.35 L393.05,195.35 L393.67,195.36 L394.3,195.36 L394.92,195.36 L395.55,195.36 L396.17,195.36 L396.8,195.36 L397.43,195.36 L398.05,195.36 L398.68,195.36 L399.3,195.37 L399.93,195.37 L400.55,195.37 L401.18,195.37 L401.81,195.37 L402.43,195.37 L403.06,195.37 L403.68,195.37 L404.31,195.37 L404.94,195.37 L405.56,195.37 L406.19,195.37 L406.81,195.37 L407.44,195.37 L408.06,195.37 L408.69,195.38 L409.32,195.38 L409.94,195.38 L410.57,195.38 L411.19,195.38 L411.82,195.38 L412.45,195.38 L413.07,195.38 L413.7,195.38 L414.32,195.38 L414.95,195.38 L415.57,195.38 L416.2,195.38" fill="none" stroke="#22a8e4" stroke-width="0.85"/>
<path d="M322.33,195.32 L322.96,195.31 L323.58,195.31 L324.21,195.31 L324.83,195.3 L325.46,195.3 L326.08,195.3 L326.71,195.29 L327.34,195.28 L327.96,195.28 L328.59,195.27 L329.21,195.26 L329.84,195.25 L330.47,195.24 L331.09,195.23 L331.72,195.21 L332.34,195.2 L332.97,195.17 L333.59,195.14 L334.22,195.11 L334.85,195.06 L335.47,195 L336.1,194.93 L336.72,194.85 L337.35,194.74 L337.97,194.62 L338.6,194.46 L339.23,194.28 L339.85,194.07 L340.48,193.81 L341.1,193.52 L341.73,193.18 L342.36,192.79 L342.98,192.36 L343.61,191.88 L344.23,191.35 L344.86,190.78 L345.48,190.16 L346.11,189.52 L346.74,188.84 L347.36,188.15 L347.99,187.46 L348.61,186.77 L349.24,186.11 L349.87,185.48 L350.49,184.9 L351.12,184.4 L351.74,183.98 L352.37,183.66 L352.99,183.44 L353.62,183.34 L354.25,183.35 L354.87,183.44 L355.5,183.6 L356.12,183.83 L356.75,184.13 L357.37,184.48 L358,184.89 L358.63,185.34 L359.25,185.83 L359.88,186.34 L360.5,186.88 L361.13,187.43 L361.76,187.98 L362.38,188.54 L363.01,189.08 L363.63,189.61 L364.26,190.13 L364.88,190.62 L365.51,191.09 L366.14,191.53 L366.76,191.95 L367.39,192.33 L368.01,192.68 L368.64,193 L369.26,193.29 L369.89,193.55 L370.52,193.79 L371.14,194 L371.77,194.18 L372.39,194.34 L373.02,194.48 L373.65,194.6 L374.27,194.71 L374.9,194.8 L375.52,194.87 L376.15,194.94 L376.77,195 L377.4,195.04 L378.03,195.08 L378.65,195.12 L379.28,195.14 L379.9,195.17 L380.53,195.19 L381.16,195.2 L381.78,195.22 L382.41,195.23 L383.03,195.24 L383.66,195.25 L384.28,195.26 L384.91,195.27 L385.54,195.27 L386.16,195.28 L386.79,195.28 L387.41,195.29 L388.04,195.29 L388.66,195.3 L389.29,195.3 L389.92,195.3 L390.54,195.31 L391.17,195.31 L391.79,195.31 L392.42,195.31 L393.05,195.32 L393.67,195.32 L394.3,195.32 L394.92,195.32 L395.55,195.33 L396.17,195.33 L396.8,195.33 L397.43,195.33 L398.05,195.33 L398.68,195.34 L399.3,195.34 L399.93,195.34 L400.55,195.34 L401.18,195.34 L401.81,195.34 L402.43,195.34 L403.06,195.35 L403.68,195.35 L404.31,195.35 L404.94,195.35 L405.56,195.35 L406.19,195.35 L406.81,195.35 L407.44,195.35 L408.06,195.36 L408.69,195.36 L409.32,195.36 L409.94,195.36 L410.57,195.36 L411.19,195.36 L411.82,195.36 L412.45,195.36 L413.07,195.36 L413.7,195.36 L414.32,195.36 L414.95,195.36 L415.57,195.37 L416.2,195.37" fill="none" stroke="#a6eef8" stroke-width="0.85"/>
<path d="M322.33,195.27 L322.96,195.27 L323.58,195.26 L324.21,195.26 L324.83,195.25 L325.46,195.25 L326.08,195.24 L326.71,195.23 L327.34,195.23 L327.96,195.22 L328.59,195.21 L329.21,195.2 L329.84,195.18 L330.47,195.17 L331.09,195.15 L331.72,195.13 L332.34,195.11 L332.97,195.08 L333.59,195.04 L334.22,194.99 L334.85,194.93 L335.47,194.86 L336.1,194.77 L336.72,194.66 L337.35,194.53 L337.97,194.36 L338.6,194.16 L339.23,193.92 L339.85,193.63 L340.48,193.28 L341.1,192.88 L341.73,192.41 L342.36,191.88 L342.98,191.27 L343.61,190.58 L344.23,189.82 L344.86,188.98 L345.48,188.07 L346.11,187.1 L346.74,186.07 L347.36,185 L347.99,183.9 L348.61,182.8 L349.24,181.71 L349.87,180.65 L350.49,179.66 L351.12,178.75 L351.74,177.95 L352.37,177.28 L352.99,176.76 L353.62,176.42 L354.25,176.26 L354.87,176.28 L355.5,176.42 L356.12,176.67 L356.75,177.04 L357.37,177.51 L358,178.07 L358.63,178.72 L359.25,179.43 L359.88,180.2 L360.5,181.02 L361.13,181.87 L361.76,182.74 L362.38,183.62 L363.01,184.5 L363.63,185.37 L364.26,186.21 L364.88,187.03 L365.51,187.81 L366.14,188.56 L366.76,189.26 L367.39,189.91 L368.01,190.52 L368.64,191.08 L369.26,191.59 L369.89,192.05 L370.52,192.47 L371.14,192.84 L371.77,193.17 L372.39,193.46 L373.02,193.72 L373.65,193.94 L374.27,194.13 L374.9,194.3 L375.52,194.44 L376.15,194.57 L376.77,194.67 L377.4,194.76 L378.03,194.83 L378.65,194.9 L379.28,194.95 L379.9,194.99 L380.53,195.03 L381.16,195.06 L381.78,195.09 L382.41,195.11 L383.03,195.13 L383.66,195.15 L384.28,195.16 L384.91,195.18 L385.54,195.19 L386.16,195.2 L386.79,195.21 L387.41,195.21 L388.04,195.22 L388.66,195.23 L389.29,195.23 L389.92,195.24 L390.54,195.25 L391.17,195.25 L391.79,195.25 L392.42,195.26 L393.05,195.26 L393.67,195.27 L394.3,195.27 L394.92,195.28 L395.55,195.28 L396.17,195.28 L396.8,195.29 L397.43,195.29 L398.05,195.29 L398.68,195.29 L399.3,195.3 L399.93,195.3 L400.55,195.3 L401.18,195.31 L401.81,195.31 L402.43,195.31 L403.06,195.31 L403.68,195.31 L404.31,195.32 L404.94,195.32 L405.56,195.32 L406.19,195.32 L406.81,195.32 L407.44,195.33 L408.06,195.33 L408.69,195.33 L409.32,195.33 L409.94,195.33 L410.57,195.33 L411.19,195.34 L411.82,195.34 L412.45,195.34 L413.07,195.34 L413.7,195.34 L414.32,195.34 L414.95,195.34 L415.57,195.34 L416.2,195.34" fill="none" stroke="#22c8d2" stroke-width="0.85"/>
<path d="M322.33,195.22 L322.96,195.22 L323.58,195.21 L324.21,195.2 L324.83,195.2 L325.46,195.19 L326.08,195.18 L326.71,195.17 L327.34,195.16 L327.96,195.15 L328.59,195.14 L329.21,195.13 L329.84,195.12 L330.47,195.1 L331.09,195.09 L331.72,195.07 L332.34,195.05 L332.97,195.02 L333.59,195 L334.22,194.96 L334.85,194.92 L335.47,194.87 L336.1,194.81 L336.72,194.73 L337.35,194.64 L337.97,194.52 L338.6,194.38 L339.23,194.2 L339.85,193.98 L340.48,193.71 L341.1,193.39 L341.73,192.99 L342.36,192.52 L342.98,191.97 L343.61,191.31 L344.23,190.56 L344.86,189.68 L345.48,188.69 L346.11,187.58 L346.74,186.34 L347.36,184.97 L347.99,183.49 L348.61,181.91 L349.24,180.24 L349.87,178.5 L350.49,176.71 L351.12,174.91 L351.74,173.13 L352.37,171.41 L352.99,169.78 L353.62,168.29 L354.25,166.98 L354.87,165.89 L355.5,165.04 L356.12,164.47 L356.75,164.21 L357.37,164.22 L358,164.45 L358.63,164.86 L359.25,165.45 L359.88,166.21 L360.5,167.13 L361.13,168.17 L361.76,169.34 L362.38,170.59 L363.01,171.93 L363.63,173.31 L364.26,174.73 L364.88,176.16 L365.51,177.59 L366.14,179.01 L366.76,180.39 L367.39,181.72 L368.01,183 L368.64,184.21 L369.26,185.36 L369.89,186.43 L370.52,187.42 L371.14,188.33 L371.77,189.17 L372.39,189.92 L373.02,190.6 L373.65,191.21 L374.27,191.75 L374.9,192.23 L375.52,192.65 L376.15,193.01 L376.77,193.33 L377.4,193.6 L378.03,193.83 L378.65,194.04 L379.28,194.21 L379.9,194.35 L380.53,194.47 L381.16,194.58 L381.78,194.66 L382.41,194.74 L383.03,194.8 L383.66,194.85 L384.28,194.89 L384.91,194.93 L385.54,194.96 L386.16,194.99 L386.79,195.01 L387.41,195.03 L388.04,195.05 L388.66,195.07 L389.29,195.08 L389.92,195.1 L390.54,195.11 L391.17,195.12 L391.79,195.13 L392.42,195.14 L393.05,195.15 L393.67,195.16 L394.3,195.16 L394.92,195.17 L395.55,195.18 L396.17,195.18 L396.8,195.19 L397.43,195.2 L398.05,195.2 L398.68,195.21 L399.3,195.21 L399.93,195.22 L400.55,195.22 L401.18,195.23 L401.81,195.23 L402.43,195.24 L403.06,195.24 L403.68,195.25 L404.31,195.25 L404.94,195.25 L405.56,195.26 L406.19,195.26 L406.81,195.26 L407.44,195.27 L408.06,195.27 L408.69,195.27 L409.32,195.28 L409.94,195.28 L410.57,195.28 L411.19,195.28 L411.82,195.29 L412.45,195.29 L413.07,195.29 L413.7,195.29 L414.32,195.3 L414.95,195.3 L415.57,195.3 L416.2,195.3" fill="none" stroke="#20d0a0" stroke-width="0.85"/>
<path d="M322.33,195.16 L322.96,195.15 L323.58,195.15 L324.21,195.14 L324.83,195.13 L325.46,195.12 L326.08,195.11 L326.71,195.1 L327.34,195.08 L327.96,195.07 L328.59,195.06 L329.21,195.04 L329.84,195.03 L330.47,195.01 L331.09,194.99 L331.72,194.97 L332.34,194.95 L332.97,194.92 L333.59,194.9 L334.22,194.86 L334.85,194.82 L335.47,194.77 L336.1,194.71 L336.72,194.64 L337.35,194.56 L337.97,194.45 L338.6,194.31 L339.23,194.15 L339.85,193.94 L340.48,193.68 L341.1,193.37 L341.73,192.98 L342.36,192.52 L342.98,191.95 L343.61,191.28 L344.23,190.49 L344.86,189.55 L345.48,188.46 L346.11,187.22 L346.74,185.79 L347.36,184.2 L347.99,182.42 L348.61,180.46 L349.24,178.34 L349.87,176.07 L350.49,173.67 L351.12,171.18 L351.74,168.61 L352.37,166.03 L352.99,163.48 L353.62,161 L354.25,158.67 L354.87,156.53 L355.5,154.64 L356.12,153.06 L356.75,151.85 L357.37,151.03 L358,150.64 L358.63,150.66 L359.25,150.97 L359.88,151.56 L360.5,152.41 L361.13,153.5 L361.76,154.81 L362.38,156.31 L363.01,157.97 L363.63,159.78 L364.26,161.69 L364.88,163.67 L365.51,165.71 L366.14,167.77 L366.76,169.82 L367.39,171.85 L368.01,173.83 L368.64,175.74 L369.26,177.58 L369.89,179.32 L370.52,180.97 L371.14,182.5 L371.77,183.93 L372.39,185.24 L373.02,186.44 L373.65,187.52 L374.27,188.5 L374.9,189.38 L375.52,190.15 L376.15,190.84 L376.77,191.44 L377.4,191.96 L378.03,192.42 L378.65,192.81 L379.28,193.15 L379.9,193.44 L380.53,193.68 L381.16,193.89 L381.78,194.07 L382.41,194.22 L383.03,194.34 L383.66,194.45 L384.28,194.53 L384.91,194.61 L385.54,194.67 L386.16,194.73 L386.79,194.77 L387.41,194.81 L388.04,194.84 L388.66,194.87 L389.29,194.9 L389.92,194.92 L390.54,194.94 L391.17,194.96 L391.79,194.98 L392.42,195 L393.05,195.01 L393.67,195.02 L394.3,195.04 L394.92,195.05 L395.55,195.06 L396.17,195.07 L396.8,195.08 L397.43,195.09 L398.05,195.1 L398.68,195.11 L399.3,195.12 L399.93,195.13 L400.55,195.13 L401.18,195.14 L401.81,195.15 L402.43,195.15 L403.06,195.16 L403.68,195.17 L404.31,195.17 L404.94,195.18 L405.56,195.18 L406.19,195.19 L406.81,195.19 L407.44,195.2 L408.06,195.2 L408.69,195.21 L409.32,195.21 L409.94,195.22 L410.57,195.22 L411.19,195.23 L411.82,195.23 L412.45,195.23 L413.07,195.24 L413.7,195.24 L414.32,195.24 L414.95,195.25 L415.57,195.25 L416.2,195.25" fill="none" stroke="#20cc50" stroke-width="0.85"/>
<path d="M322.33,195.08 L322.96,195.07 L323.58,195.06 L324.21,195.04 L324.83,195.03 L325.46,195.02 L326.08,195.01 L326.71,194.99 L327.34,194.97 L327.96,194.96 L328.59,194.94 L329.21,194.92 L329.84,194.9 L330.47,194.88 L331.09,194.86 L331.72,194.83 L332.34,194.8 L332.97,194.77 L333.59,194.73 L334.22,194.69 L334.85,194.65 L335.47,194.59 L336.1,194.52 L336.72,194.44 L337.35,194.34 L337.97,194.22 L338.6,194.07 L339.23,193.88 L339.85,193.64 L340.48,193.35 L341.1,193 L341.73,192.56 L342.36,192.02 L342.98,191.37 L343.61,190.58 L344.23,189.64 L344.86,188.52 L345.48,187.21 L346.11,185.69 L346.74,183.94 L347.36,181.95 L347.99,179.72 L348.61,177.23 L349.24,174.49 L349.87,171.52 L350.49,168.34 L351.12,164.98 L351.74,161.48 L352.37,157.89 L352.99,154.27 L353.62,150.69 L354.25,147.23 L354.87,143.95 L355.5,140.95 L356.12,138.31 L356.75,136.09 L357.37,134.38 L358,133.23 L358.63,132.68 L359.25,132.71 L359.88,133.15 L360.5,133.97 L361.13,135.15 L361.76,136.68 L362.38,138.51 L363.01,140.61 L363.63,142.95 L364.26,145.47 L364.88,148.15 L365.51,150.93 L366.14,153.78 L366.76,156.66 L367.39,159.54 L368.01,162.38 L368.64,165.15 L369.26,167.84 L369.89,170.41 L370.52,172.86 L371.14,175.16 L371.77,177.32 L372.39,179.32 L373.02,181.15 L373.65,182.83 L374.27,184.35 L374.9,185.72 L375.52,186.95 L376.15,188.04 L376.77,189 L377.4,189.85 L378.03,190.58 L378.65,191.22 L379.28,191.77 L379.9,192.24 L380.53,192.65 L381.16,192.99 L381.78,193.28 L382.41,193.53 L383.03,193.74 L383.66,193.91 L384.28,194.06 L384.91,194.19 L385.54,194.29 L386.16,194.38 L386.79,194.45 L387.41,194.52 L388.04,194.57 L388.66,194.62 L389.29,194.66 L389.92,194.7 L390.54,194.73 L391.17,194.76 L391.79,194.79 L392.42,194.81 L393.05,194.83 L393.67,194.85 L394.3,194.87 L394.92,194.89 L395.55,194.91 L396.17,194.92 L396.8,194.94 L397.43,194.95 L398.05,194.97 L398.68,194.98 L399.3,194.99 L399.93,195 L400.55,195.01 L401.18,195.03 L401.81,195.04 L402.43,195.05 L403.06,195.06 L403.68,195.06 L404.31,195.07 L404.94,195.08 L405.56,195.09 L406.19,195.1 L406.81,195.11 L407.44,195.11 L408.06,195.12 L408.69,195.13 L409.32,195.13 L409.94,195.14 L410.57,195.15 L411.19,195.15 L411.82,195.16 L412.45,195.16 L413.07,195.17 L413.7,195.17 L414.32,195.18 L414.95,195.18 L415.57,195.19 L416.2,195.19" fill="none" stroke="#2ee030" stroke-width="0.85"/>
<path d="M322.33,195.04 L322.96,195.03 L323.58,195.02 L324.21,195.01 L324.83,194.99 L325.46,194.98 L326.08,194.96 L326.71,194.95 L327.34,194.93 L327.96,194.92 L328.59,194.9 L329.21,194.88 L329.84,194.86 L330.47,194.84 L331.09,194.81 L331.72,194.79 L332.34,194.76 L332.97,194.73 L333.59,194.7 L334.22,194.67 L334.85,194.63 L335.47,194.58 L336.1,194.53 L336.72,194.48 L337.35,194.41 L337.97,194.32 L338.6,194.22 L339.23,194.1 L339.85,193.95 L340.48,193.77 L341.1,193.54 L341.73,193.25 L342.36,192.9 L342.98,192.46 L343.61,191.92 L344.23,191.27 L344.86,190.47 L345.48,189.51 L346.11,188.35 L346.74,186.99 L347.36,185.39 L347.99,183.53 L348.61,181.39 L349.24,178.96 L349.87,176.21 L350.49,173.17 L351.12,169.82 L351.74,166.18 L352.37,162.28 L352.99,158.16 L353.62,153.87 L354.25,149.47 L354.87,145.03 L355.5,140.63 L356.12,136.38 L356.75,132.35 L357.37,128.66 L358,125.41 L358.63,122.68 L359.25,120.57 L359.88,119.14 L360.5,118.45 L361.13,118.47 L361.76,119 L362.38,120 L363.01,121.44 L363.63,123.31 L364.26,125.55 L364.88,128.12 L365.51,130.98 L366.14,134.07 L366.76,137.35 L367.39,140.76 L368.01,144.26 L368.64,147.8 L369.26,151.33 L369.89,154.81 L370.52,158.22 L371.14,161.52 L371.77,164.68 L372.39,167.68 L373.02,170.52 L373.65,173.16 L374.27,175.62 L374.9,177.88 L375.52,179.94 L376.15,181.81 L376.77,183.5 L377.4,185 L378.03,186.34 L378.65,187.53 L379.28,188.57 L379.9,189.47 L380.53,190.26 L381.16,190.93 L381.78,191.52 L382.41,192.01 L383.03,192.44 L383.66,192.8 L384.28,193.1 L384.91,193.36 L385.54,193.57 L386.16,193.75 L386.79,193.91 L387.41,194.04 L388.04,194.15 L388.66,194.24 L389.29,194.32 L389.92,194.38 L390.54,194.44 L391.17,194.49 L391.79,194.54 L392.42,194.58 L393.05,194.62 L393.67,194.65 L394.3,194.68 L394.92,194.71 L395.55,194.73 L396.17,194.75 L396.8,194.78 L397.43,194.8 L398.05,194.82 L398.68,194.83 L399.3,194.85 L399.93,194.87 L400.55,194.88 L401.18,194.9 L401.81,194.91 L402.43,194.93 L403.06,194.94 L403.68,194.95 L404.31,194.97 L404.94,194.98 L405.56,194.99 L406.19,195 L406.81,195.01 L407.44,195.02 L408.06,195.03 L408.69,195.04 L409.32,195.05 L409.94,195.06 L410.57,195.06 L411.19,195.07 L411.82,195.08 L412.45,195.09 L413.07,195.09 L413.7,195.1 L414.32,195.11 L414.95,195.11 L415.57,195.12 L416.2,195.13" fill="none" stroke="#bff060" stroke-width="0.85"/>
<line x1="354.5" y1="196.5" x2="377" y2="161" stroke="#a08070" stroke-width="0.6" stroke-dasharray="1.4,1"/>
<line x1="338.5" y1="185.5" x2="347.9" y2="139.5" stroke="url(#maarr)" stroke-width="1"/>
<polygon points="346.5,140.2 349.7,140.8 348.7,136" fill="#20c890"/>
<text x="0" y="0" font-size="5.2" text-anchor="middle" dominant-baseline="central" fill="#333" font-family="Liberation Sans, sans-serif" font-style="italic" textLength="37" lengthAdjust="spacingAndGlyphs" transform="translate(338.2 160.5) rotate(-77)">Increased MA</text>
<rect x="375.9" y="113" width="38" height="49.4" fill="#fff" stroke="#999" stroke-width="0.5"/>
<text x="374.7" y="157.33" font-size="2.8" text-anchor="end" font-weight="normal" fill="#484848" font-family="Liberation Sans, sans-serif" stroke="#484848" stroke-width="0.11" >20</text>
<text x="374.7" y="144.27" font-size="2.8" text-anchor="end" font-weight="normal" fill="#484848" font-family="Liberation Sans, sans-serif" stroke="#484848" stroke-width="0.11" >40</text>
<text x="374.7" y="131.2" font-size="2.8" text-anchor="end" font-weight="normal" fill="#484848" font-family="Liberation Sans, sans-serif" stroke="#484848" stroke-width="0.11" >60</text>
<text x="374.7" y="118.14" font-size="2.8" text-anchor="end" font-weight="normal" fill="#484848" font-family="Liberation Sans, sans-serif" stroke="#484848" stroke-width="0.11" >80</text>
<text x="377.4" y="167.3" font-size="2.6" text-anchor="middle" font-weight="normal" fill="#484848" font-family="Liberation Sans, sans-serif" stroke="#484848" stroke-width="0.1" >420</text>
<text x="384.21" y="167.3" font-size="2.6" text-anchor="middle" font-weight="normal" fill="#484848" font-family="Liberation Sans, sans-serif" stroke="#484848" stroke-width="0.1" >450</text>
<text x="389.89" y="167.3" font-size="2.6" text-anchor="middle" font-weight="normal" fill="#484848" font-family="Liberation Sans, sans-serif" stroke="#484848" stroke-width="0.1" >475</text>
<text x="395.57" y="167.3" font-size="2.6" text-anchor="middle" font-weight="normal" fill="#484848" font-family="Liberation Sans, sans-serif" stroke="#484848" stroke-width="0.1" >500</text>
<text x="401.25" y="167.3" font-size="2.6" text-anchor="middle" font-weight="normal" fill="#484848" font-family="Liberation Sans, sans-serif" stroke="#484848" stroke-width="0.1" >525</text>
<text x="406.92" y="167.3" font-size="2.6" text-anchor="middle" font-weight="normal" fill="#484848" font-family="Liberation Sans, sans-serif" stroke="#484848" stroke-width="0.1" >550</text>
<text x="412.6" y="167.3" font-size="2.6" text-anchor="middle" font-weight="normal" fill="#484848" font-family="Liberation Sans, sans-serif" stroke="#484848" stroke-width="0.1" >575</text>
<path d="M374.9,156.33H375.9 M374.9,143.27H375.9 M374.9,130.2H375.9 M374.9,117.14H375.9 M377.4,162.4V163.4 M384.21,162.4V163.4 M389.89,162.4V163.4 M395.57,162.4V163.4 M401.25,162.4V163.4 M406.92,162.4V163.4 M412.6,162.4V163.4" stroke="#777" stroke-width="0.35" fill="none"/>
<text x="382.8" y="172.4" font-size="3.3" text-anchor="start" font-weight="normal" fill="#484848" font-family="Liberation Sans, sans-serif" textLength="19.8" lengthAdjust="spacingAndGlyphs" stroke="#484848" stroke-width="0.13" >Wavelength (nm)</text>
<text x="0" y="0" font-size="2.9" text-anchor="middle" dominant-baseline="central" font-weight="normal" fill="#484848" font-family="Liberation Sans, sans-serif" textLength="15" lengthAdjust="spacingAndGlyphs" stroke="#484848" stroke-width="0.12" transform="translate(371.3 128) rotate(-90)">PL intensity</text>
<polyline points="376.2,152.38 376.62,152.42 377.03,152.43 377.45,152.43 377.86,152.4 378.28,152.36 378.69,152.29 379.11,152.21 379.52,152.11 379.94,152 380.36,151.9 380.77,151.8 381.19,151.71 381.6,151.65 382.02,151.63 382.43,151.64 382.85,151.7 383.26,151.81 383.68,151.97 384.1,152.17 384.51,152.4 384.93,152.67 385.34,152.96 385.76,153.27 386.17,153.57 386.59,153.87 387,154.15 387.42,154.4 387.84,154.62 388.25,154.81 388.67,154.96 389.08,155.06 389.5,155.13 389.91,155.17 390.33,155.2 390.74,155.22 391.16,155.26 391.58,155.32 391.99,155.41 392.41,155.54 392.82,155.71 393.24,155.91 393.65,156.13 394.07,156.36 394.48,156.58 394.9,156.8 395.32,157 395.73,157.18 396.15,157.34 396.56,157.48 396.98,157.61 397.39,157.73 397.81,157.85 398.22,157.96 398.64,158.06 399.06,158.17 399.47,158.27 399.89,158.37 400.3,158.47 400.72,158.57 401.13,158.68 401.55,158.78 401.96,158.88 402.38,158.98 402.8,159.08 403.21,159.18 403.63,159.29 404.04,159.39 404.46,159.49 404.87,159.59 405.29,159.69 405.7,159.79 406.12,159.9 406.54,160 406.95,160.1 407.37,160.2 407.78,160.3 408.2,160.4 408.61,160.51 409.03,160.61 409.44,160.71 409.86,160.81 410.28,160.91 410.69,161.01 411.11,161.12 411.52,161.22 411.94,161.32 412.35,161.42 412.77,161.52 413.18,161.62 413.6,161.73" fill="none" stroke="#222" stroke-width="0.7"/>
<polyline points="376.2,150.07 376.62,150.18 377.03,150.3 377.45,150.41 377.86,150.51 378.28,150.6 378.69,150.68 379.11,150.75 379.52,150.81 379.94,150.84 380.36,150.86 380.77,150.85 381.19,150.82 381.6,150.76 382.02,150.67 382.43,150.55 382.85,150.41 383.26,150.23 383.68,150.04 384.1,149.82 384.51,149.59 384.93,149.36 385.34,149.12 385.76,148.9 386.17,148.7 386.59,148.54 387,148.41 387.42,148.34 387.84,148.32 388.25,148.36 388.67,148.47 389.08,148.64 389.5,148.87 389.91,149.17 390.33,149.52 390.74,149.92 391.16,150.36 391.58,150.82 391.99,151.3 392.41,151.8 392.82,152.29 393.24,152.77 393.65,153.24 394.07,153.69 394.48,154.11 394.9,154.51 395.32,154.88 395.73,155.21 396.15,155.52 396.56,155.8 396.98,156.06 397.39,156.3 397.81,156.51 398.22,156.71 398.64,156.89 399.06,157.07 399.47,157.23 399.89,157.38 400.3,157.53 400.72,157.67 401.13,157.81 401.55,157.95 401.96,158.08 402.38,158.22 402.8,158.35 403.21,158.48 403.63,158.61 404.04,158.74 404.46,158.87 404.87,159 405.29,159.13 405.7,159.25 406.12,159.38 406.54,159.51 406.95,159.64 407.37,159.77 407.78,159.9 408.2,160.03 408.61,160.16 409.03,160.29 409.44,160.42 409.86,160.55 410.28,160.67 410.69,160.8 411.11,160.93 411.52,161.06 411.94,161.19 412.35,161.32 412.77,161.45 413.18,161.58 413.6,161.71" fill="none" stroke="#c42cc4" stroke-width="1.05"/>
<polyline points="376.2,150.52 376.62,150.62 377.03,150.7 377.45,150.78 377.86,150.84 378.28,150.88 378.69,150.91 379.11,150.92 379.52,150.91 379.94,150.88 380.36,150.84 380.77,150.78 381.19,150.71 381.6,150.63 382.02,150.55 382.43,150.46 382.85,150.36 383.26,150.26 383.68,150.15 384.1,150.01 384.51,149.84 384.93,149.63 385.34,149.36 385.76,149.01 386.17,148.57 386.59,148.05 387,147.42 387.42,146.7 387.84,145.91 388.25,145.05 388.67,144.17 389.08,143.3 389.5,142.48 389.91,141.76 390.33,141.17 390.74,140.76 391.16,140.56 391.58,140.58 391.99,140.84 392.41,141.32 392.82,142.03 393.24,142.92 393.65,143.97 394.07,145.13 394.48,146.36 394.9,147.63 395.32,148.88 395.73,150.09 396.15,151.24 396.56,152.29 396.98,153.24 397.39,154.08 397.81,154.81 398.22,155.44 398.64,155.97 399.06,156.42 399.47,156.81 399.89,157.13 400.3,157.4 400.72,157.63 401.13,157.83 401.55,158.01 401.96,158.17 402.38,158.32 402.8,158.47 403.21,158.6 403.63,158.73 404.04,158.86 404.46,158.99 404.87,159.11 405.29,159.24 405.7,159.36 406.12,159.49 406.54,159.61 406.95,159.73 407.37,159.86 407.78,159.98 408.2,160.1 408.61,160.23 409.03,160.35 409.44,160.48 409.86,160.6 410.28,160.72 410.69,160.85 411.11,160.97 411.52,161.09 411.94,161.22 412.35,161.34 412.77,161.46 413.18,161.59 413.6,161.71" fill="none" stroke="#80c8f8" stroke-width="0.6" stroke-dasharray="0.8,0.5"/>
<polyline points="376.2,150.52 376.62,150.62 377.03,150.7 377.45,150.78 377.86,150.84 378.28,150.88 378.69,150.91 379.11,150.92 379.52,150.91 379.94,150.88 380.36,150.84 380.77,150.78 381.19,150.71 381.6,150.63 382.02,150.55 382.43,150.46 382.85,150.36 383.26,150.26 383.68,150.15 384.1,150.01 384.51,149.84 384.93,149.63 385.34,149.36 385.76,149.01 386.17,148.57 386.59,148.05 387,147.42 387.42,146.7 387.84,145.91 388.25,145.05 388.67,144.17 389.08,143.3 389.5,142.48 389.91,141.76 390.33,141.17 390.74,140.76 391.16,140.56 391.58,140.58 391.99,140.84 392.41,141.32 392.82,142.03 393.24,142.92 393.65,143.97 394.07,145.13 394.48,146.36 394.9,147.63 395.32,148.88 395.73,150.09 396.15,151.24 396.56,152.29 396.98,153.24 397.39,154.08 397.81,154.81 398.22,155.44 398.64,155.97 399.06,156.42 399.47,156.81 399.89,157.13 400.3,157.4 400.72,157.63 401.13,157.83 401.55,158.01 401.96,158.17 402.38,158.32 402.8,158.47 403.21,158.6 403.63,158.73 404.04,158.86 404.46,158.99 404.87,159.11 405.29,159.24 405.7,159.36 406.12,159.49 406.54,159.61 406.95,159.73 407.37,159.86 407.78,159.98 408.2,160.1 408.61,160.23 409.03,160.35 409.44,160.48 409.86,160.6 410.28,160.72 410.69,160.85 411.11,160.97 411.52,161.09 411.94,161.22 412.35,161.34 412.77,161.46 413.18,161.59 413.6,161.71" fill="none" stroke="#2838d8" stroke-width="1.2"/>
<polyline points="376.2,149.58 376.62,149.71 377.03,149.83 377.45,149.95 377.86,150.06 378.28,150.17 378.69,150.28 379.11,150.38 379.52,150.47 379.94,150.55 380.36,150.61 380.77,150.66 381.19,150.69 381.6,150.69 382.02,150.67 382.43,150.62 382.85,150.53 383.26,150.42 383.68,150.27 384.1,150.08 384.51,149.87 384.93,149.61 385.34,149.32 385.76,148.99 386.17,148.6 386.59,148.13 387,147.57 387.42,146.87 387.84,145.99 388.25,144.86 388.67,143.45 389.08,141.68 389.5,139.53 389.91,137 390.33,134.11 390.74,130.93 391.16,127.6 391.58,124.29 391.99,121.21 392.41,118.58 392.82,116.61 393.24,115.48 393.65,115.31 394.07,116.15 394.48,117.96 394.9,120.62 395.32,123.96 395.73,127.76 396.15,131.78 396.56,135.8 396.98,139.63 397.39,143.13 397.81,146.2 398.22,148.81 398.64,150.95 399.06,152.65 399.47,153.97 399.89,154.96 400.3,155.71 400.72,156.26 401.13,156.67 401.55,156.98 401.96,157.22 402.38,157.42 402.8,157.59 403.21,157.74 403.63,157.88 404.04,158.01 404.46,158.14 404.87,158.27 405.29,158.39 405.7,158.52 406.12,158.65 406.54,158.77 406.95,158.9 407.37,159.02 407.78,159.15 408.2,159.27 408.61,159.4 409.03,159.53 409.44,159.65 409.86,159.78 410.28,159.9 410.69,160.03 411.11,160.15 411.52,160.28 411.94,160.41 412.35,160.53 412.77,160.66 413.18,160.78 413.6,160.91" fill="none" stroke="#78c4f6" stroke-width="0.8"/>
<circle cx="388.67" cy="144.17" r="0.75" fill="#2030c8"/>
<circle cx="390.33" cy="141.17" r="0.75" fill="#2030c8"/>
<circle cx="391.99" cy="140.84" r="0.75" fill="#2030c8"/>
<circle cx="393.65" cy="143.97" r="0.75" fill="#2030c8"/>
<circle cx="395.32" cy="148.88" r="0.75" fill="#2030c8"/>
<circle cx="396.98" cy="153.24" r="0.75" fill="#2030c8"/>
<circle cx="398.64" cy="155.97" r="0.75" fill="#2030c8"/>
<circle cx="400.3" cy="157.4" r="0.75" fill="#2030c8"/>
<circle cx="401.96" cy="158.17" r="0.75" fill="#2030c8"/>
<circle cx="403.63" cy="158.73" r="0.75" fill="#2030c8"/>
<circle cx="405.29" cy="159.24" r="0.75" fill="#2030c8"/>
<circle cx="406.95" cy="159.73" r="0.75" fill="#2030c8"/>
<rect x="444.3" y="111.7" width="96.7" height="87.3" fill="none" stroke="#888" stroke-width="0.55"/>
<text x="442" y="198.7" font-size="3.9" text-anchor="end" font-weight="normal" fill="#383838" font-family="Liberation Sans, sans-serif" stroke="#383838" stroke-width="0.16" >0</text>
<text x="442" y="185.7" font-size="3.9" text-anchor="end" font-weight="normal" fill="#383838" font-family="Liberation Sans, sans-serif" stroke="#383838" stroke-width="0.16" >500</text>
<text x="442" y="172.7" font-size="3.9" text-anchor="end" font-weight="normal" fill="#383838" font-family="Liberation Sans, sans-serif" stroke="#383838" stroke-width="0.16" >1000</text>
<text x="442" y="159.7" font-size="3.9" text-anchor="end" font-weight="normal" fill="#383838" font-family="Liberation Sans, sans-serif" stroke="#383838" stroke-width="0.16" >1500</text>
<text x="442" y="146.7" font-size="3.9" text-anchor="end" font-weight="normal" fill="#383838" font-family="Liberation Sans, sans-serif" stroke="#383838" stroke-width="0.16" >2000</text>
<text x="442" y="133.7" font-size="3.9" text-anchor="end" font-weight="normal" fill="#383838" font-family="Liberation Sans, sans-serif" stroke="#383838" stroke-width="0.16" >2500</text>
<text x="442" y="120.7" font-size="3.9" text-anchor="end" font-weight="normal" fill="#383838" font-family="Liberation Sans, sans-serif" stroke="#383838" stroke-width="0.16" >3000</text>
<text x="444.7" y="205.5" font-size="3.9" text-anchor="middle" font-weight="normal" fill="#383838" font-family="Liberation Sans, sans-serif" stroke="#383838" stroke-width="0.16" >0</text>
<text x="463.9" y="205.5" font-size="3.9" text-anchor="middle" font-weight="normal" fill="#383838" font-family="Liberation Sans, sans-serif" stroke="#383838" stroke-width="0.16" >20</text>
<text x="483.1" y="205.5" font-size="3.9" text-anchor="middle" font-weight="normal" fill="#383838" font-family="Liberation Sans, sans-serif" stroke="#383838" stroke-width="0.16" >40</text>
<text x="502.3" y="205.5" font-size="3.9" text-anchor="middle" font-weight="normal" fill="#383838" font-family="Liberation Sans, sans-serif" stroke="#383838" stroke-width="0.16" >60</text>
<text x="521.5" y="205.5" font-size="3.9" text-anchor="middle" font-weight="normal" fill="#383838" font-family="Liberation Sans, sans-serif" stroke="#383838" stroke-width="0.16" >80</text>
<text x="540.7" y="205.5" font-size="3.9" text-anchor="middle" font-weight="normal" fill="#383838" font-family="Liberation Sans, sans-serif" stroke="#383838" stroke-width="0.16" >100</text>
<path d="M442.8,197.4H444.3 M442.8,184.4H444.3 M442.8,171.4H444.3 M442.8,158.4H444.3 M442.8,145.4H444.3 M442.8,132.4H444.3 M442.8,119.4H444.3 M444.7,199V200.5 M463.9,199V200.5 M483.1,199V200.5 M502.3,199V200.5 M521.5,199V200.5 M540.7,199V200.5 M454.3,199V199.8 M473.5,199V199.8 M492.7,199V199.8 M511.9,199V199.8 M531.1,199V199.8" stroke="#777" stroke-width="0.45" fill="none"/>
<text x="467" y="213.7" font-size="5.2" text-anchor="start" font-weight="normal" fill="#484848" font-family="Liberation Sans, sans-serif" textLength="48.6" lengthAdjust="spacingAndGlyphs" stroke="#484848" stroke-width="0.21" >MA concentration (ppm)</text>
<text x="0" y="0" font-size="4.6" text-anchor="middle" dominant-baseline="central" font-weight="normal" fill="#484848" font-family="Liberation Sans, sans-serif" textLength="51" lengthAdjust="spacingAndGlyphs" stroke="#484848" stroke-width="0.18" transform="translate(429.6 153.1) rotate(-90)">Enhanced PL intensity</text>
<text x="449.9" y="121" font-size="5.6" text-anchor="start" font-weight="normal" fill="#444" font-family="Liberation Sans, sans-serif" stroke="#444" stroke-width="0.22" >B</text>
<line x1="445.66" y1="197.44" x2="538.3" y2="113.87" stroke="#f06060" stroke-width="0.75"/>
<rect x="444.61" y="196.09" width="2.1" height="2.1" fill="#111"/>
<rect x="445.57" y="195.7" width="2.1" height="2.1" fill="#111"/>
<rect x="446.53" y="195.31" width="2.1" height="2.1" fill="#111"/>
<rect x="448.45" y="194.79" width="2.1" height="2.1" fill="#111"/>
<rect x="453.25" y="189.07" width="2.1" height="2.1" fill="#111"/>
<rect x="458.05" y="183.61" width="2.1" height="2.1" fill="#111"/>
<rect x="467.65" y="176.85" width="2.1" height="2.1" fill="#111"/>
<rect x="477.25" y="166.45" width="2.1" height="2.1" fill="#111"/>
<rect x="496.45" y="152.15" width="2.1" height="2.1" fill="#111"/>
<rect x="515.65" y="131.35" width="2.1" height="2.1" fill="#111"/>
<rect x="534.85" y="118.35" width="2.1" height="2.1" fill="#111"/>
<line x1="478.3" y1="169.84" x2="478.3" y2="165.16" stroke="#111" stroke-width="0.45"/>
<line x1="497.5" y1="154.76" x2="497.5" y2="151.64" stroke="#111" stroke-width="0.45"/>
<text x="458.7" y="142.2" font-size="4.9" text-anchor="start" font-weight="normal" fill="#3a3a3a" font-family="Liberation Sans, sans-serif" textLength="35.3" lengthAdjust="spacingAndGlyphs" stroke="#3a3a3a" stroke-width="0.2" >Y = 33.31X - 34.89</text>
<text x="463.9" y="150.6" font-size="4.9" text-anchor="start" font-weight="normal" fill="#3a3a3a" font-family="Liberation Sans, sans-serif" textLength="23.2" lengthAdjust="spacingAndGlyphs" stroke="#3a3a3a" stroke-width="0.2" >(R<tspan font-size="3" dy="-1.6">2</tspan><tspan dy="1.6"> = 0.990)</tspan></text>
<rect x="318.8" y="252.9" width="98" height="11" fill="#a6eff6"/>
<rect x="318.8" y="220" width="98" height="87.8" fill="none" stroke="#888" stroke-width="0.55"/>
<text x="316.6" y="309.2" font-size="3.9" text-anchor="end" font-weight="normal" fill="#383838" font-family="Liberation Sans, sans-serif" stroke="#383838" stroke-width="0.16" >475</text>
<text x="316.6" y="298.2" font-size="3.9" text-anchor="end" font-weight="normal" fill="#383838" font-family="Liberation Sans, sans-serif" stroke="#383838" stroke-width="0.16" >480</text>
<text x="316.6" y="287.2" font-size="3.9" text-anchor="end" font-weight="normal" fill="#383838" font-family="Liberation Sans, sans-serif" stroke="#383838" stroke-width="0.16" >485</text>
<text x="316.6" y="276.2" font-size="3.9" text-anchor="end" font-weight="normal" fill="#383838" font-family="Liberation Sans, sans-serif" stroke="#383838" stroke-width="0.16" >490</text>
<text x="316.6" y="265.2" font-size="3.9" text-anchor="end" font-weight="normal" fill="#383838" font-family="Liberation Sans, sans-serif" stroke="#383838" stroke-width="0.16" >495</text>
<text x="316.6" y="254.2" font-size="3.9" text-anchor="end" font-weight="normal" fill="#383838" font-family="Liberation Sans, sans-serif" stroke="#383838" stroke-width="0.16" >500</text>
<text x="316.6" y="243.2" font-size="3.9" text-anchor="end" font-weight="normal" fill="#383838" font-family="Liberation Sans, sans-serif" stroke="#383838" stroke-width="0.16" >505</text>
<text x="316.6" y="232.2" font-size="3.9" text-anchor="end" font-weight="normal" fill="#383838" font-family="Liberation Sans, sans-serif" stroke="#383838" stroke-width="0.16" >510</text>
<text x="316.6" y="221.2" font-size="3.9" text-anchor="end" font-weight="normal" fill="#383838" font-family="Liberation Sans, sans-serif" stroke="#383838" stroke-width="0.16" >515</text>
<text x="323.8" y="314.4" font-size="3.9" text-anchor="middle" font-weight="normal" fill="#383838" font-family="Liberation Sans, sans-serif" stroke="#383838" stroke-width="0.16" >0</text>
<text x="342.46" y="314.4" font-size="3.9" text-anchor="middle" font-weight="normal" fill="#383838" font-family="Liberation Sans, sans-serif" stroke="#383838" stroke-width="0.16" >20</text>
<text x="361.12" y="314.4" font-size="3.9" text-anchor="middle" font-weight="normal" fill="#383838" font-family="Liberation Sans, sans-serif" stroke="#383838" stroke-width="0.16" >40</text>
<text x="379.78" y="314.4" font-size="3.9" text-anchor="middle" font-weight="normal" fill="#383838" font-family="Liberation Sans, sans-serif" stroke="#383838" stroke-width="0.16" >60</text>
<text x="398.44" y="314.4" font-size="3.9" text-anchor="middle" font-weight="normal" fill="#383838" font-family="Liberation Sans, sans-serif" stroke="#383838" stroke-width="0.16" >80</text>
<text x="417.1" y="314.4" font-size="3.9" text-anchor="middle" font-weight="normal" fill="#383838" font-family="Liberation Sans, sans-serif" stroke="#383838" stroke-width="0.16" >100</text>
<path d="M317.3,307.9H318.8 M317.3,296.9H318.8 M317.3,285.9H318.8 M317.3,274.9H318.8 M317.3,263.9H318.8 M317.3,252.9H318.8 M317.3,241.9H318.8 M317.3,230.9H318.8 M317.3,219.9H318.8 M323.8,307.8V309.3 M342.46,307.8V309.3 M361.12,307.8V309.3 M379.78,307.8V309.3 M398.44,307.8V309.3 M417.1,307.8V309.3 M333.13,307.8V308.6 M351.79,307.8V308.6 M370.45,307.8V308.6 M389.11,307.8V308.6 M407.77,307.8V308.6" stroke="#777" stroke-width="0.45" fill="none"/>
<text x="341.7" y="322.9" font-size="5.2" text-anchor="start" font-weight="normal" fill="#484848" font-family="Liberation Sans, sans-serif" textLength="48.6" lengthAdjust="spacingAndGlyphs" stroke="#484848" stroke-width="0.21" >MA concentration (ppm)</text>
<text x="0" y="0" font-size="4.6" text-anchor="middle" dominant-baseline="central" font-weight="normal" fill="#484848" font-family="Liberation Sans, sans-serif" textLength="28" lengthAdjust="spacingAndGlyphs" stroke="#484848" stroke-width="0.18" transform="translate(303.6 264) rotate(-90)">PL peak (nm)</text>
<text x="324.6" y="228.7" font-size="5.6" text-anchor="start" font-weight="normal" fill="#3a4a7a" font-family="Liberation Sans, sans-serif" stroke="#3a4a7a" stroke-width="0.22" >C</text>
<rect x="323.68" y="299.15" width="2.1" height="2.1" fill="#111"/>
<line x1="324.73" y1="297.56" x2="324.73" y2="302.84" stroke="#111" stroke-width="0.45"/>
<rect x="325.55" y="272.75" width="2.1" height="2.1" fill="#111"/>
<line x1="326.6" y1="270.5" x2="326.6" y2="277.1" stroke="#111" stroke-width="0.45"/>
<rect x="327.42" y="265.49" width="2.1" height="2.1" fill="#111"/>
<line x1="328.47" y1="264.78" x2="328.47" y2="268.3" stroke="#111" stroke-width="0.45"/>
<rect x="332.08" y="254.05" width="2.1" height="2.1" fill="#111"/>
<rect x="336.75" y="248.11" width="2.1" height="2.1" fill="#111"/>
<line x1="337.8" y1="248.06" x2="337.8" y2="250.26" stroke="#111" stroke-width="0.45"/>
<rect x="346.07" y="243.05" width="2.1" height="2.1" fill="#111"/>
<rect x="355.41" y="235.79" width="2.1" height="2.1" fill="#111"/>
<line x1="356.46" y1="235.08" x2="356.46" y2="238.6" stroke="#111" stroke-width="0.45"/>
<rect x="374.06" y="233.81" width="2.1" height="2.1" fill="#111"/>
<rect x="392.73" y="232.49" width="2.1" height="2.1" fill="#111"/>
<rect x="411.38" y="228.97" width="2.1" height="2.1" fill="#111"/>
<line x1="364.9" y1="233" x2="364.9" y2="283" stroke="#18b4e4" stroke-width="0.9" stroke-dasharray="2.6,1.6"/>
<polygon points="363.2,233.2 366.6,233.2 364.9,229.6" fill="#20d0a0"/>
<polygon points="363.2,282.6 366.6,282.6 364.9,286.2" fill="#1890e0"/>
<text x="366.6" y="245.7" font-size="5.2" text-anchor="start" font-weight="normal" fill="#484848" font-family="Liberation Sans, sans-serif" textLength="14" lengthAdjust="spacingAndGlyphs" stroke="#484848" stroke-width="0.21" >Green</text>
<text x="366.6" y="260.7" font-size="5.2" text-anchor="start" font-weight="normal" fill="#484848" font-family="Liberation Sans, sans-serif" textLength="12.3" lengthAdjust="spacingAndGlyphs" stroke="#484848" stroke-width="0.21" >Cyan</text>
<text x="366.6" y="275.8" font-size="5.2" text-anchor="start" font-weight="normal" fill="#484848" font-family="Liberation Sans, sans-serif" textLength="11.6" lengthAdjust="spacingAndGlyphs" stroke="#484848" stroke-width="0.21" >Blue</text>
<text x="431" y="230.2" font-size="5.4" text-anchor="start" font-weight="normal" fill="#333" font-family="Liberation Sans, sans-serif" stroke="#333" stroke-width="0.22" >D</text>
<text x="453.7" y="237.8" font-size="4" text-anchor="start" font-weight="bold" fill="#222" font-family="Liberation Sans, sans-serif" textLength="53.7" lengthAdjust="spacingAndGlyphs" stroke="#222" stroke-width="0.18" >Mode 1: Fluorescence turn-on</text>
<rect x="425.8" y="242.8" width="111.8" height="1" fill="url(#ar1)"/>
<polygon points="537.2,241.6 540,243.3 537.2,245" fill="#28e028"/>
<rect x="422.3" y="253.2" width="123.3" height="13" fill="#050608"/>
<rect x="422.9" y="254.3" width="10.6" height="10.9" fill="url(#cd0)"/>
<rect x="435.28" y="254.3" width="10.6" height="10.9" fill="url(#cd1)"/>
<rect x="447.66" y="254.3" width="10.6" height="10.9" fill="url(#cd2)"/>
<rect x="460.04" y="254.3" width="10.6" height="10.9" fill="url(#cd3)"/>
<rect x="472.42" y="254.3" width="10.6" height="10.9" fill="url(#cd4)"/>
<rect x="484.8" y="254.3" width="10.6" height="10.9" fill="url(#cd5)"/>
<rect x="497.18" y="254.3" width="10.6" height="10.9" fill="url(#cd6)"/>
<rect x="509.56" y="254.3" width="10.6" height="10.9" fill="url(#cd7)"/>
<rect x="521.94" y="254.3" width="10.6" height="10.9" fill="url(#cd8)"/>
<rect x="534.32" y="254.3" width="10.6" height="10.9" fill="url(#cd9)"/>
<text x="428.2" y="250.4" font-size="3.7" text-anchor="middle" font-weight="normal" fill="#333" font-family="Liberation Sans, sans-serif" stroke="#333" stroke-width="0.15" >Blank</text>
<text x="440.58" y="250.4" font-size="3.7" text-anchor="middle" font-weight="normal" fill="#333" font-family="Liberation Sans, sans-serif" stroke="#333" stroke-width="0.15" >2.5</text>
<text x="452.96" y="250.4" font-size="3.7" text-anchor="middle" font-weight="normal" fill="#333" font-family="Liberation Sans, sans-serif" stroke="#333" stroke-width="0.15" >5</text>
<text x="465.34" y="250.4" font-size="3.7" text-anchor="middle" font-weight="normal" fill="#333" font-family="Liberation Sans, sans-serif" stroke="#333" stroke-width="0.15" >10</text>
<text x="477.72" y="250.4" font-size="3.7" text-anchor="middle" font-weight="normal" fill="#333" font-family="Liberation Sans, sans-serif" stroke="#333" stroke-width="0.15" >15</text>
<text x="490.1" y="250.4" font-size="3.7" text-anchor="middle" font-weight="normal" fill="#333" font-family="Liberation Sans, sans-serif" stroke="#333" stroke-width="0.15" >25</text>
<text x="502.48" y="250.4" font-size="3.7" text-anchor="middle" font-weight="normal" fill="#333" font-family="Liberation Sans, sans-serif" stroke="#333" stroke-width="0.15" >35</text>
<text x="514.86" y="250.4" font-size="3.7" text-anchor="middle" font-weight="normal" fill="#333" font-family="Liberation Sans, sans-serif" stroke="#333" stroke-width="0.15" >55</text>
<text x="527.24" y="250.4" font-size="3.7" text-anchor="middle" font-weight="normal" fill="#333" font-family="Liberation Sans, sans-serif" stroke="#333" stroke-width="0.15" >75</text>
<text x="534.1" y="250.4" font-size="3.7" text-anchor="start" font-weight="normal" fill="#333" font-family="Liberation Sans, sans-serif" textLength="12.7" lengthAdjust="spacingAndGlyphs" stroke="#333" stroke-width="0.15" >95 ppm</text>
<rect x="428.5" y="271.3" width="109.5" height="1" fill="url(#ar2)"/>
<polygon points="429.3,270.1 426.3,271.8 429.3,273.5" fill="#1058e0"/>
<polygon points="537.2,270.1 540,271.8 537.2,273.5" fill="#28e028"/>
<line x1="465.4" y1="266.6" x2="465.4" y2="277.5" stroke="#60c8f0" stroke-width="0.45"/>
<text x="438.3" y="280.2" font-size="3.7" text-anchor="middle" font-weight="normal" fill="#333" font-family="Liberation Sans, sans-serif" textLength="21.3" lengthAdjust="spacingAndGlyphs" stroke="#333" stroke-width="0.15" >Dark or Blue</text>
<text x="438.7" y="287" font-size="3.4" text-anchor="middle" font-weight="normal" fill="#333" font-family="Liberation Sans, sans-serif" textLength="8.2" lengthAdjust="spacingAndGlyphs" stroke="#333" stroke-width="0.14" >(Safe)</text>
<text x="465" y="280.2" font-size="3.7" text-anchor="middle" font-weight="normal" fill="#333" font-family="Liberation Sans, sans-serif" textLength="8.7" lengthAdjust="spacingAndGlyphs" stroke="#333" stroke-width="0.15" >Cyan</text>
<text x="465" y="287" font-size="3.4" text-anchor="middle" font-weight="normal" fill="#333" font-family="Liberation Sans, sans-serif" textLength="7.6" lengthAdjust="spacingAndGlyphs" stroke="#333" stroke-width="0.14" >(PEL)</text>
<text x="509.1" y="280.2" font-size="3.7" text-anchor="middle" font-weight="normal" fill="#333" font-family="Liberation Sans, sans-serif" textLength="9.6" lengthAdjust="spacingAndGlyphs" stroke="#333" stroke-width="0.15" >Green</text>
<text x="509.8" y="287" font-size="3.4" text-anchor="middle" font-weight="normal" fill="#333" font-family="Liberation Sans, sans-serif" textLength="19.2" lengthAdjust="spacingAndGlyphs" stroke="#333" stroke-width="0.14" >(Dangerous)</text>
<text x="442" y="295.2" font-size="4" text-anchor="start" font-weight="bold" fill="#222" font-family="Liberation Sans, sans-serif" textLength="79.3" lengthAdjust="spacingAndGlyphs" stroke="#222" stroke-width="0.18" >Mode 2: Wavelength-shift based colorimetry</text>
</svg>
</body></html>
